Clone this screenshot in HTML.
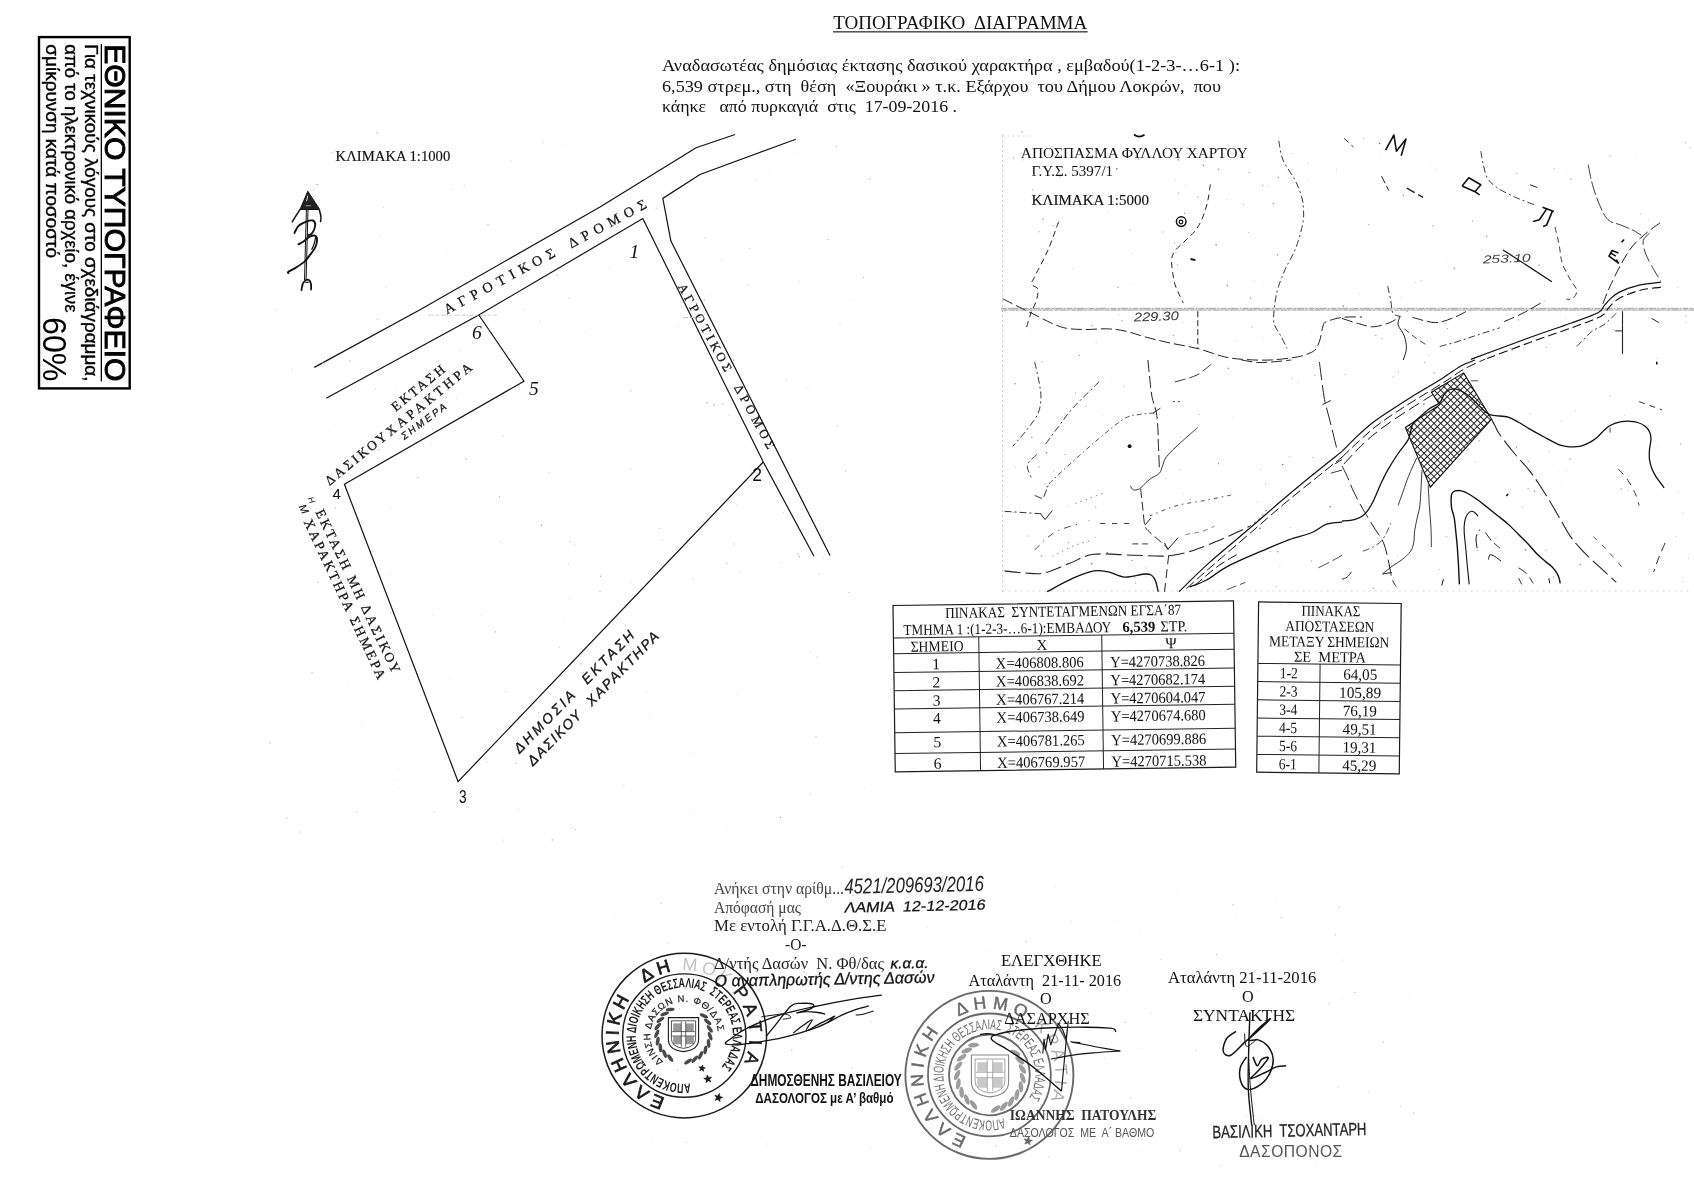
<!DOCTYPE html>
<html><head><meta charset="utf-8"><title>ΤΟΠΟΓΡΑΦΙΚΟ ΔΙΑΓΡΑΜΜΑ</title>
<style>
html,body{margin:0;padding:0;background:#fff;}
body{width:1694px;height:1177px;overflow:hidden;font-family:"Liberation Serif",serif;}
svg{display:block;filter:grayscale(100%);}
text{white-space:pre;}
</style></head><body>
<svg width="1694" height="1177" viewBox="0 0 1694 1177" xml:space="preserve">
<rect width="1694" height="1177" fill="#fff"/>
<!-- part1 -->
<rect x="39" y="37.1" width="90.7" height="351.3" fill="none" stroke="#000" stroke-width="2.4"/>
<text transform="translate(105.2,44.2) rotate(90)" font-family="Liberation Sans" font-size="29.6" fill="#000" textLength="337.3" lengthAdjust="spacingAndGlyphs" stroke="#000" stroke-width="0.9">ΕΘΝΙΚΟ ΤΥΠΟΓΡΑΦΕΙΟ</text>
<rect x="100.7" y="44" width="1.3" height="337.5" fill="#000"/>
<text transform="translate(84.9,44.3) rotate(90)" font-family="Liberation Sans" font-size="17.6" fill="#000" textLength="337.2" lengthAdjust="spacingAndGlyphs" stroke="#000" stroke-width="0.35">Για τεχνικούς λόγους στο σχεδιάγραμμα,</text>
<text transform="translate(65.4,44.3) rotate(90)" font-family="Liberation Sans" font-size="17.6" fill="#000" textLength="268.3" lengthAdjust="spacingAndGlyphs" stroke="#000" stroke-width="0.35">από το ηλεκτρονικό αρχείο, έγινε</text>
<text transform="translate(46.3,44.3) rotate(90)" font-family="Liberation Sans" font-size="17.6" fill="#000" textLength="213.7" lengthAdjust="spacingAndGlyphs" stroke="#000" stroke-width="0.35">σμίκρυνση κατά ποσοστό</text>
<text transform="translate(42.7,317) rotate(90)" font-family="Liberation Sans" font-size="33" fill="#000" textLength="64.5" lengthAdjust="spacingAndGlyphs">60%</text>
<text transform="translate(833.3,28.5)" font-family="Liberation Serif" font-size="18.2" fill="#111" textLength="254" lengthAdjust="spacingAndGlyphs">ΤΟΠΟΓΡΑΦΙΚΟ  ΔΙΑΓΡΑΜΜΑ</text>
<rect x="833" y="31.3" width="254.6" height="1.1" fill="#111"/>
<text transform="translate(662,71.2)" font-family="Liberation Serif" font-size="16.8" fill="#111" textLength="578" lengthAdjust="spacingAndGlyphs">Αναδασωτέας δημόσιας έκτασης δασικού χαρακτήρα , εμβαδού(1-2-3-…6-1 ):</text>
<text transform="translate(662,91.8)" font-family="Liberation Serif" font-size="16.8" fill="#111" textLength="559" lengthAdjust="spacingAndGlyphs">6,539 στρεμ., στη  θέση  «Ξουράκι » τ.κ. Εξάρχου  του Δήμου Λοκρών,  που</text>
<text transform="translate(662,112.3)" font-family="Liberation Serif" font-size="16.8" fill="#111" textLength="295" lengthAdjust="spacingAndGlyphs">κάηκε   από πυρκαγιά  στις  17-09-2016 .</text>
<!-- part2 -->
<text transform="translate(335.6,161)" font-family="Liberation Serif" font-size="14.6" fill="#111" textLength="114.7" lengthAdjust="spacingAndGlyphs" stroke="#111" stroke-width="0.15">ΚΛΙΜΑΚΑ 1:1000</text>
<path d="M314.3,367.4 L420.0,309.8 L600.0,207.0 L696.1,147.7 L735.1,134.5" fill="none" stroke="#111" stroke-width="1.2"/>
<path d="M326.2,398.2 L478.8,315.0 L642.8,218.6 L763.3,462.0 L814.0,556.3" fill="none" stroke="#111" stroke-width="1.2"/>
<path d="M795.8,139.2 L700.0,174.5 L662.8,198.4 L670.9,241.0 L680.5,260.0 L830.0,555.6" fill="none" stroke="#111" stroke-width="1.2"/>
<path d="M478.8,315.0 L524.0,381.2 L344.4,484.2 L458.1,781.6 L763.3,462.0" fill="none" stroke="#111" stroke-width="1.2"/>
<text transform="translate(446.9,314.6) rotate(-28.2)" font-family="Liberation Serif" font-size="14.2" fill="#111" textLength="124" lengthAdjust="spacing" stroke="#111" stroke-width="0.25">ΑΓΡΟΤΙΚΟΣ</text>
<text transform="translate(571.2,248.4) rotate(-28.2)" font-family="Liberation Serif" font-size="14.2" fill="#111" textLength="87" lengthAdjust="spacing" stroke="#111" stroke-width="0.25">ΔΡΟΜΟΣ</text>
<text transform="translate(677.7,286.5) rotate(61.3)" font-family="Liberation Serif" font-size="12.6" fill="#111" textLength="98.3" lengthAdjust="spacing" stroke="#111" stroke-width="0.25">ΑΓΡΟΤΙΚΟΣ</text>
<text transform="translate(733.8,387.6) rotate(61.3)" font-family="Liberation Serif" font-size="12.6" fill="#111" textLength="71" lengthAdjust="spacing" stroke="#111" stroke-width="0.25">ΔΡΟΜΟΣ</text>
<text transform="translate(395.7,411.9) rotate(-39)" font-family="Liberation Serif" font-size="13.4" fill="#111" textLength="64.6" lengthAdjust="spacing" stroke="#111" stroke-width="0.25">ΕΚΤΑΣΗ</text>
<text transform="translate(329.4,486) rotate(-39.3)" font-family="Liberation Serif" font-size="13.4" fill="#111" textLength="75.4" lengthAdjust="spacing" stroke="#111" stroke-width="0.25">ΔΑΣΙΚΟΥ</text>
<text transform="translate(390.3,436.7) rotate(-39.3)" font-family="Liberation Serif" font-size="13.4" fill="#111" textLength="106.8" lengthAdjust="spacing" stroke="#111" stroke-width="0.25">ΧΑΡΑΚΤΗΡΑ</text>
<text transform="translate(404.2,440.1) rotate(-36.5)" font-family="Liberation Sans" font-size="10" font-style="italic" fill="#111" textLength="53.4" lengthAdjust="spacing" stroke="#111" stroke-width="0.25">ΣΗΜΕΡΑ</text>
<text transform="translate(315.2,512) rotate(64.5)" font-family="Liberation Serif" font-size="13.6" fill="#111" textLength="179.7" lengthAdjust="spacing" stroke="#111" stroke-width="0.25">ΕΚΤΑΣΗ ΜΗ ΔΑΣΙΚΟΥ</text>
<text transform="translate(303.5,521.8) rotate(64.8)" font-family="Liberation Serif" font-size="13.6" fill="#111" textLength="175" lengthAdjust="spacing" stroke="#111" stroke-width="0.25">ΧΑΡΑΚΤΗΡΑ ΣΗΜΕΡΑ</text>
<text transform="translate(298.6,506.4) rotate(64.5)" font-family="Liberation Sans" font-size="11" font-style="italic" fill="#111">Μ</text>
<text transform="translate(307.4,498.6) rotate(64.5)" font-family="Liberation Sans" font-size="8.5" font-style="italic" fill="#111">Η</text>
<text transform="translate(519.5,754) rotate(-45.5)" font-family="Liberation Sans" font-size="14" font-style="italic" fill="#111" textLength="165" lengthAdjust="spacing" stroke="#111" stroke-width="0.3">ΔΗΜΟΣΙΑ  ΕΚΤΑΣΗ</text>
<text transform="translate(533,766.5) rotate(-45.5)" font-family="Liberation Sans" font-size="14" font-style="italic" fill="#111" textLength="181" lengthAdjust="spacing" stroke="#111" stroke-width="0.3">ΔΑΣΙΚΟΥ  ΧΑΡΑΚΤΗΡΑ</text>
<text transform="translate(629.5,258.3)" font-family="Liberation Serif" font-size="19.5" font-style="italic" fill="#111">1</text>
<text transform="translate(752.3,480.6)" font-family="Liberation Sans" font-size="17.5" fill="#111">2</text>
<text transform="translate(459,802.6)" font-family="Liberation Sans" font-size="17.5" fill="#111" textLength="7.6" lengthAdjust="spacingAndGlyphs">3</text>
<text transform="translate(332.5,499.2)" font-family="Liberation Sans" font-size="15" fill="#111">4</text>
<text transform="translate(529,394.5)" font-family="Liberation Serif" font-size="19.5" font-style="italic" fill="#111">5</text>
<text transform="translate(472,338.8)" font-family="Liberation Serif" font-size="19.5" font-style="italic" fill="#111">6</text>
<path d="M307.8,191.2 L300.0,209.5 L319.7,209.5 Z" fill="#222" stroke="#111" stroke-width="1"/>
<path d="M307.8,195.6 L306.6,201.2" fill="none" stroke="#ddd" stroke-width="1.0"/>
<path d="M305.7,205.7 L311.0,205.7" fill="none" stroke="#bbb" stroke-width="0.8"/>
<path d="M300.3,209.2 C299.5,210.4 297.0,214.2 295.6,216.4 C294.2,218.6 292.6,221.3 292.0,222.3" fill="none" stroke="#111" stroke-width="1.5"/>
<path d="M319.3,209.8 C319.6,210.9 320.7,214.3 320.9,216.4 C321.1,218.5 320.6,221.3 320.5,222.3" fill="none" stroke="#111" stroke-width="1.5"/>
<path d="M306.4,209.2 L304.5,280.0" fill="none" stroke="#111" stroke-width="1.0"/>
<path d="M308.0,209.2 L306.1,280.0" fill="none" stroke="#111" stroke-width="1.0"/>
<path d="M294.4,233.0 C295.1,231.8 296.5,227.8 298.5,225.9 C300.6,223.9 304.5,222.3 306.9,221.4 C309.2,220.5 311.4,220.2 312.8,220.5 C314.2,220.9 314.9,222.0 315.2,223.5 C315.4,225.0 314.9,227.7 314.2,229.5 C313.5,231.2 312.1,233.3 311.0,234.2 C310.0,235.2 308.5,235.0 308.0,235.2" fill="none" stroke="#111" stroke-width="1.9" stroke-linecap="round"/>
<path d="M298.5,244.3 C299.5,243.7 302.7,242.0 304.5,240.7 C306.3,239.5 307.4,237.6 309.2,236.8 C311.1,236.0 314.5,235.2 315.8,236.0 C317.1,236.7 317.1,239.5 317.0,241.3 C316.9,243.2 316.3,245.1 315.2,247.3 C314.1,249.5 312.2,252.0 310.4,254.4 C308.6,256.8 306.9,259.4 304.5,261.6 C302.1,263.7 298.8,265.8 296.2,267.5 C293.5,269.2 289.7,270.8 288.4,271.7 C287.1,272.6 288.4,272.8 288.4,273.0" fill="none" stroke="#111" stroke-width="1.9" stroke-linecap="round"/>
<path d="M315.8,236.6 C315.5,237.8 314.9,241.5 314.2,243.7 C313.5,245.9 312.1,248.7 311.6,249.7" fill="none" stroke="#111" stroke-width="1.2"/>
<path d="M301.5,290.1 C301.7,289.1 302.0,285.8 302.7,284.1 C303.4,282.5 304.6,280.9 305.7,280.2 C306.8,279.6 308.3,279.6 309.2,280.2 C310.1,280.9 310.7,282.6 311.0,284.1 C311.3,285.7 311.1,288.6 311.1,289.5" fill="none" stroke="#111" stroke-width="1.8" stroke-linecap="round"/>
<path d="M305.4,282.4 L308.6,282.4" fill="none" stroke="#111" stroke-width="1.2"/>
<path d="M428,315.2 H497" fill="none" stroke="#cfcfcf" stroke-width="1" stroke-dasharray="6 2 3 2"/>
<path d="M683,317.6 H701" fill="none" stroke="#bbb" stroke-width="1" stroke-dasharray="5 2"/>
<circle cx="541.4" cy="525.2" r="0.7" fill="#999"/><circle cx="574.7" cy="545.0" r="0.5" fill="#999"/><circle cx="647.9" cy="692.0" r="0.4" fill="#999"/><circle cx="452.0" cy="189.8" r="0.4" fill="#999"/><circle cx="848.9" cy="592.6" r="0.5" fill="#aaa"/><circle cx="769.0" cy="170.2" r="0.4" fill="#bbb"/><circle cx="797.7" cy="553.7" r="0.7" fill="#ccc"/><circle cx="534.3" cy="727.3" r="0.5" fill="#ccc"/><circle cx="569.9" cy="598.7" r="0.7" fill="#ccc"/><circle cx="514.1" cy="519.2" r="0.4" fill="#ccc"/><circle cx="459.2" cy="289.2" r="0.6" fill="#aaa"/><circle cx="312.1" cy="672.9" r="0.7" fill="#aaa"/><circle cx="778.0" cy="401.4" r="0.4" fill="#aaa"/><circle cx="398.1" cy="787.8" r="0.4" fill="#999"/><circle cx="495.3" cy="631.9" r="0.7" fill="#aaa"/><circle cx="609.7" cy="266.9" r="0.6" fill="#ccc"/><circle cx="322.3" cy="362.8" r="0.7" fill="#aaa"/><circle cx="350.8" cy="630.5" r="0.4" fill="#aaa"/><circle cx="549.0" cy="473.1" r="0.5" fill="#999"/><circle cx="575.3" cy="829.5" r="0.5" fill="#999"/><circle cx="656.2" cy="208.3" r="0.7" fill="#bbb"/><circle cx="270.3" cy="743.0" r="0.6" fill="#aaa"/><circle cx="396.4" cy="406.9" r="0.4" fill="#aaa"/><circle cx="863.6" cy="277.5" r="0.6" fill="#aaa"/><circle cx="733.6" cy="360.2" r="0.6" fill="#999"/><circle cx="314.0" cy="189.4" r="0.5" fill="#aaa"/><circle cx="630.8" cy="390.8" r="0.7" fill="#bbb"/><circle cx="845.5" cy="470.9" r="0.5" fill="#999"/><circle cx="379.7" cy="235.2" r="0.5" fill="#bbb"/><circle cx="705.2" cy="238.3" r="0.5" fill="#999"/><circle cx="799.3" cy="556.5" r="0.7" fill="#aaa"/><circle cx="332.3" cy="152.7" r="0.6" fill="#bbb"/><circle cx="713.9" cy="405.0" r="0.7" fill="#999"/><circle cx="446.1" cy="250.4" r="0.4" fill="#bbb"/><circle cx="407.0" cy="524.9" r="0.4" fill="#ccc"/><circle cx="397.4" cy="779.2" r="0.4" fill="#aaa"/><circle cx="431.5" cy="443.7" r="0.4" fill="#aaa"/><circle cx="375.8" cy="388.7" r="0.5" fill="#aaa"/><circle cx="487.3" cy="762.0" r="0.6" fill="#bbb"/><circle cx="623.9" cy="785.4" r="0.7" fill="#ccc"/><circle cx="690.6" cy="813.4" r="0.4" fill="#aaa"/><circle cx="559.3" cy="647.3" r="0.6" fill="#bbb"/><circle cx="869.6" cy="178.8" r="0.6" fill="#aaa"/><circle cx="810.1" cy="652.0" r="0.5" fill="#ccc"/><circle cx="481.1" cy="614.9" r="0.4" fill="#999"/><circle cx="836.5" cy="146.6" r="0.7" fill="#aaa"/><circle cx="645.0" cy="398.4" r="0.4" fill="#aaa"/><circle cx="318.1" cy="582.2" r="0.6" fill="#999"/><circle cx="706.9" cy="402.7" r="0.7" fill="#999"/><circle cx="547.6" cy="512.0" r="0.4" fill="#ccc"/><circle cx="630.8" cy="468.9" r="0.5" fill="#aaa"/><circle cx="568.4" cy="564.4" r="0.7" fill="#ccc"/><circle cx="807.9" cy="388.1" r="0.5" fill="#bbb"/><circle cx="581.0" cy="663.9" r="0.6" fill="#999"/><circle cx="569.0" cy="297.7" r="0.7" fill="#ccc"/><circle cx="389.1" cy="433.1" r="0.5" fill="#bbb"/><circle cx="500.7" cy="541.9" r="0.6" fill="#bbb"/><circle cx="351.7" cy="480.0" r="0.4" fill="#aaa"/><circle cx="840.0" cy="322.9" r="0.5" fill="#aaa"/><circle cx="540.4" cy="321.7" r="0.5" fill="#999"/><circle cx="499.5" cy="496.8" r="0.6" fill="#999"/><circle cx="462.2" cy="717.5" r="0.6" fill="#aaa"/><circle cx="677.0" cy="326.0" r="0.6" fill="#ccc"/><circle cx="659.6" cy="528.3" r="0.5" fill="#999"/><circle cx="542.9" cy="142.7" r="0.6" fill="#bbb"/><circle cx="737.6" cy="694.7" r="0.4" fill="#999"/><circle cx="335.4" cy="507.8" r="0.6" fill="#aaa"/><circle cx="680.7" cy="267.5" r="0.7" fill="#ccc"/><circle cx="377.2" cy="132.7" r="0.7" fill="#aaa"/><circle cx="377.5" cy="319.7" r="0.6" fill="#bbb"/><circle cx="506.1" cy="691.2" r="0.5" fill="#aaa"/><circle cx="516.3" cy="763.2" r="0.7" fill="#bbb"/><circle cx="540.3" cy="265.8" r="0.4" fill="#999"/><circle cx="600.0" cy="591.7" r="0.6" fill="#999"/><circle cx="465.9" cy="827.4" r="0.4" fill="#aaa"/><circle cx="398.0" cy="768.5" r="0.4" fill="#ccc"/><circle cx="592.2" cy="690.4" r="0.6" fill="#ccc"/><circle cx="816.0" cy="736.9" r="0.6" fill="#aaa"/><circle cx="292.3" cy="369.6" r="0.7" fill="#ccc"/><circle cx="562.5" cy="145.3" r="0.4" fill="#999"/><circle cx="749.9" cy="248.6" r="0.6" fill="#bbb"/><circle cx="552.3" cy="839.9" r="0.7" fill="#999"/><circle cx="617.4" cy="617.7" r="0.5" fill="#999"/><circle cx="586.0" cy="332.5" r="0.5" fill="#ccc"/><circle cx="457.0" cy="397.6" r="0.5" fill="#ccc"/><circle cx="780.5" cy="817.4" r="0.6" fill="#999"/><circle cx="390.6" cy="508.2" r="0.4" fill="#999"/><circle cx="286.7" cy="818.1" r="0.7" fill="#aaa"/><circle cx="564.6" cy="619.1" r="0.4" fill="#999"/><circle cx="518.3" cy="809.2" r="0.7" fill="#ccc"/><circle cx="417.8" cy="477.5" r="0.6" fill="#999"/><circle cx="810.5" cy="794.0" r="0.7" fill="#ccc"/><circle cx="335.2" cy="425.0" r="0.4" fill="#ccc"/><circle cx="347.7" cy="682.2" r="0.4" fill="#aaa"/><circle cx="386.5" cy="287.5" r="0.6" fill="#ccc"/><circle cx="704.2" cy="299.8" r="0.7" fill="#aaa"/><circle cx="569.8" cy="541.3" r="0.6" fill="#bbb"/><circle cx="690.8" cy="753.3" r="0.4" fill="#999"/><circle cx="649.8" cy="715.0" r="0.5" fill="#bbb"/><circle cx="788.3" cy="506.8" r="0.5" fill="#bbb"/><circle cx="780.8" cy="562.4" r="0.5" fill="#bbb"/><circle cx="818.9" cy="573.9" r="0.6" fill="#bbb"/><circle cx="459.5" cy="350.2" r="0.5" fill="#bbb"/><circle cx="737.0" cy="264.1" r="0.4" fill="#bbb"/><circle cx="803.4" cy="219.8" r="0.4" fill="#ccc"/><circle cx="502.7" cy="435.9" r="0.7" fill="#bbb"/><circle cx="390.4" cy="574.0" r="0.4" fill="#aaa"/><circle cx="390.6" cy="612.9" r="0.6" fill="#aaa"/><circle cx="692.8" cy="578.8" r="0.6" fill="#bbb"/><circle cx="751.7" cy="469.7" r="0.4" fill="#aaa"/><circle cx="727.2" cy="563.6" r="0.7" fill="#bbb"/><circle cx="383.7" cy="207.2" r="0.5" fill="#bbb"/><circle cx="864.2" cy="787.7" r="0.4" fill="#aaa"/><circle cx="350.7" cy="611.9" r="0.4" fill="#aaa"/><circle cx="466.1" cy="458.9" r="0.6" fill="#999"/><circle cx="396.1" cy="391.8" r="0.4" fill="#bbb"/><circle cx="378.8" cy="449.6" r="0.6" fill="#999"/><circle cx="823.1" cy="557.5" r="0.4" fill="#aaa"/><circle cx="464.2" cy="185.6" r="0.7" fill="#bbb"/><circle cx="572.6" cy="827.6" r="0.6" fill="#ccc"/><circle cx="816.8" cy="657.3" r="0.5" fill="#999"/><circle cx="349.9" cy="360.9" r="0.6" fill="#999"/><circle cx="729.1" cy="415.1" r="0.5" fill="#aaa"/><circle cx="748.4" cy="340.7" r="0.4" fill="#aaa"/><circle cx="802.8" cy="833.3" r="0.4" fill="#bbb"/><circle cx="433.8" cy="812.4" r="0.6" fill="#ccc"/><circle cx="399.6" cy="415.4" r="0.5" fill="#aaa"/><circle cx="503.8" cy="839.9" r="0.5" fill="#aaa"/><circle cx="727.0" cy="825.8" r="0.4" fill="#aaa"/><circle cx="639.2" cy="653.2" r="0.6" fill="#999"/><circle cx="510.9" cy="161.1" r="0.5" fill="#999"/><circle cx="276.5" cy="309.9" r="0.6" fill="#ccc"/><circle cx="600.0" cy="488.1" r="0.4" fill="#999"/><circle cx="755.7" cy="179.5" r="0.4" fill="#999"/><circle cx="828.1" cy="239.4" r="0.7" fill="#bbb"/><circle cx="783.4" cy="512.5" r="0.4" fill="#999"/><circle cx="837.2" cy="425.8" r="0.7" fill="#ccc"/><circle cx="489.3" cy="329.3" r="0.6" fill="#ccc"/><circle cx="668.2" cy="659.6" r="0.4" fill="#aaa"/><circle cx="733.5" cy="543.9" r="0.5" fill="#999"/><circle cx="722.8" cy="403.8" r="0.6" fill="#999"/><circle cx="300.1" cy="832.0" r="0.6" fill="#aaa"/><circle cx="748.6" cy="284.9" r="0.7" fill="#ccc"/><circle cx="853.9" cy="299.3" r="0.4" fill="#999"/><circle cx="356.6" cy="811.4" r="0.5" fill="#aaa"/><circle cx="300.2" cy="423.3" r="0.4" fill="#bbb"/><circle cx="786.7" cy="380.0" r="0.5" fill="#aaa"/><circle cx="488.0" cy="224.9" r="0.7" fill="#999"/><circle cx="630.6" cy="582.3" r="0.7" fill="#ccc"/><circle cx="736.8" cy="504.5" r="0.5" fill="#ccc"/><circle cx="710.6" cy="295.5" r="0.4" fill="#ccc"/><circle cx="740.6" cy="571.9" r="0.6" fill="#ccc"/><circle cx="432.9" cy="614.8" r="0.5" fill="#ccc"/><circle cx="722.0" cy="260.7" r="0.5" fill="#bbb"/><circle cx="797.3" cy="153.2" r="0.4" fill="#aaa"/><circle cx="432.6" cy="429.0" r="0.4" fill="#aaa"/><circle cx="403.5" cy="324.0" r="0.4" fill="#bbb"/><circle cx="600.4" cy="576.2" r="0.6" fill="#999"/><circle cx="557.1" cy="275.6" r="0.6" fill="#999"/><circle cx="716.9" cy="724.6" r="0.4" fill="#aaa"/><circle cx="538.4" cy="712.8" r="0.5" fill="#999"/><circle cx="524.6" cy="309.5" r="0.5" fill="#ccc"/><circle cx="362.1" cy="723.0" r="0.6" fill="#ccc"/><circle cx="599.2" cy="658.5" r="0.5" fill="#999"/><circle cx="662.3" cy="540.1" r="0.7" fill="#ccc"/><circle cx="317.1" cy="184.4" r="0.7" fill="#999"/><circle cx="449.3" cy="679.5" r="0.4" fill="#ccc"/><circle cx="398.0" cy="598.4" r="0.4" fill="#ccc"/><circle cx="566.9" cy="671.4" r="0.6" fill="#ccc"/><circle cx="799.0" cy="281.4" r="0.6" fill="#ccc"/><circle cx="1343.1" cy="960.0" r="0.5" fill="#ccc"/><circle cx="1087.7" cy="1139.7" r="0.6" fill="#bbb"/><circle cx="959.2" cy="1108.9" r="0.5" fill="#bbb"/><circle cx="860.4" cy="983.9" r="0.6" fill="#ccc"/><circle cx="803.6" cy="972.1" r="0.5" fill="#aaa"/><circle cx="897.9" cy="982.6" r="0.5" fill="#aaa"/><circle cx="1205.8" cy="974.2" r="0.5" fill="#ccc"/><circle cx="726.9" cy="1043.3" r="0.4" fill="#aaa"/><circle cx="673.6" cy="1000.9" r="0.5" fill="#aaa"/><circle cx="781.4" cy="877.9" r="0.4" fill="#ccc"/><circle cx="842.6" cy="866.9" r="0.5" fill="#aaa"/><circle cx="1077.2" cy="954.7" r="0.6" fill="#aaa"/><circle cx="874.3" cy="944.8" r="0.4" fill="#bbb"/><circle cx="669.5" cy="1056.6" r="0.4" fill="#aaa"/><circle cx="1211.5" cy="1061.2" r="0.4" fill="#ccc"/><circle cx="780.8" cy="1097.3" r="0.6" fill="#bbb"/><circle cx="1227.1" cy="982.3" r="0.5" fill="#bbb"/><circle cx="1151.4" cy="1013.0" r="0.6" fill="#ccc"/><circle cx="659.4" cy="1051.6" r="0.4" fill="#bbb"/><circle cx="1220.8" cy="1165.6" r="0.5" fill="#aaa"/><circle cx="1260.8" cy="1118.5" r="0.5" fill="#ccc"/><circle cx="1125.0" cy="1022.4" r="0.6" fill="#aaa"/><circle cx="1257.8" cy="990.7" r="0.5" fill="#aaa"/><circle cx="801.5" cy="910.3" r="0.6" fill="#bbb"/><circle cx="1160.9" cy="959.5" r="0.5" fill="#bbb"/><circle cx="1033.8" cy="945.0" r="0.4" fill="#bbb"/><circle cx="852.9" cy="895.6" r="0.6" fill="#aaa"/><circle cx="1236.3" cy="915.6" r="0.4" fill="#bbb"/><circle cx="614.1" cy="1009.1" r="0.4" fill="#bbb"/><circle cx="689.1" cy="917.2" r="0.4" fill="#ccc"/><circle cx="793.0" cy="1082.3" r="0.6" fill="#ccc"/><circle cx="783.6" cy="917.3" r="0.5" fill="#bbb"/><circle cx="741.5" cy="1094.8" r="0.5" fill="#ccc"/><circle cx="1049.6" cy="1113.3" r="0.5" fill="#bbb"/><circle cx="997.5" cy="984.8" r="0.5" fill="#ccc"/><circle cx="1048.8" cy="1156.7" r="0.5" fill="#aaa"/><circle cx="927.5" cy="927.4" r="0.4" fill="#bbb"/><circle cx="1400.3" cy="1106.4" r="0.5" fill="#aaa"/><circle cx="1139.2" cy="933.7" r="0.4" fill="#bbb"/><circle cx="1342.3" cy="999.5" r="0.4" fill="#ccc"/><circle cx="945.6" cy="1131.2" r="0.5" fill="#aaa"/><circle cx="1233.0" cy="904.9" r="0.6" fill="#aaa"/><circle cx="1122.3" cy="1167.9" r="0.5" fill="#ccc"/><circle cx="1038.4" cy="906.7" r="0.4" fill="#aaa"/><circle cx="767.5" cy="1144.0" r="0.4" fill="#aaa"/><circle cx="667.6" cy="943.7" r="0.6" fill="#ccc"/><circle cx="679.7" cy="1008.8" r="0.5" fill="#aaa"/><circle cx="1383.5" cy="1041.9" r="0.6" fill="#bbb"/><circle cx="615.6" cy="918.2" r="0.4" fill="#ccc"/><circle cx="674.6" cy="1116.2" r="0.4" fill="#aaa"/><circle cx="1045.6" cy="1023.0" r="0.4" fill="#bbb"/><circle cx="859.2" cy="985.7" r="0.6" fill="#bbb"/><circle cx="1417.8" cy="1066.8" r="0.4" fill="#bbb"/><circle cx="661.0" cy="903.6" r="0.6" fill="#bbb"/><circle cx="1154.2" cy="1091.5" r="0.4" fill="#ccc"/><circle cx="965.2" cy="1127.7" r="0.6" fill="#ccc"/><circle cx="989.7" cy="951.0" r="0.4" fill="#bbb"/><circle cx="1232.9" cy="1125.4" r="0.6" fill="#aaa"/><circle cx="1339.3" cy="907.2" r="0.6" fill="#bbb"/><circle cx="1368.7" cy="1092.4" r="0.5" fill="#bbb"/><circle cx="1055.6" cy="886.9" r="0.4" fill="#aaa"/><circle cx="908.8" cy="894.0" r="0.5" fill="#bbb"/><circle cx="1061.5" cy="1084.4" r="0.5" fill="#bbb"/><circle cx="1278.0" cy="888.6" r="0.4" fill="#ccc"/><circle cx="677.4" cy="1070.1" r="0.6" fill="#aaa"/><circle cx="747.5" cy="984.7" r="0.5" fill="#ccc"/><circle cx="1177.2" cy="891.1" r="0.4" fill="#aaa"/><circle cx="1409.7" cy="994.5" r="0.4" fill="#bbb"/><circle cx="1354.9" cy="992.4" r="0.6" fill="#aaa"/><circle cx="1130.7" cy="1097.7" r="0.6" fill="#bbb"/><circle cx="995.9" cy="1145.6" r="0.6" fill="#aaa"/><circle cx="1196.1" cy="1050.1" r="0.5" fill="#aaa"/><circle cx="1141.4" cy="1048.7" r="0.4" fill="#bbb"/><circle cx="871.4" cy="966.1" r="0.6" fill="#bbb"/><circle cx="687.1" cy="977.1" r="0.6" fill="#bbb"/><circle cx="1246.6" cy="1115.8" r="0.6" fill="#ccc"/><circle cx="729.8" cy="1097.6" r="0.5" fill="#ccc"/><circle cx="791.8" cy="1049.7" r="0.6" fill="#aaa"/><circle cx="1070.8" cy="921.4" r="0.6" fill="#ccc"/><circle cx="1179.6" cy="1150.1" r="0.6" fill="#aaa"/><circle cx="1114.2" cy="921.3" r="0.4" fill="#aaa"/><circle cx="800.6" cy="1038.7" r="0.6" fill="#bbb"/><circle cx="869.9" cy="1148.0" r="0.5" fill="#bbb"/><circle cx="979.7" cy="898.4" r="0.6" fill="#aaa"/><circle cx="795.7" cy="1036.5" r="0.6" fill="#ccc"/><circle cx="652.1" cy="1143.7" r="0.4" fill="#ccc"/><circle cx="1413.5" cy="1113.4" r="0.6" fill="#aaa"/><circle cx="700.6" cy="1115.6" r="0.5" fill="#ccc"/><circle cx="1335.5" cy="934.7" r="0.6" fill="#bbb"/><circle cx="1281.2" cy="917.5" r="0.6" fill="#aaa"/><circle cx="972.6" cy="985.1" r="0.6" fill="#aaa"/><circle cx="852.3" cy="1068.1" r="0.6" fill="#bbb"/><circle cx="1104.5" cy="1058.5" r="0.4" fill="#aaa"/><circle cx="763.6" cy="1005.1" r="0.4" fill="#ccc"/><circle cx="916.8" cy="1036.6" r="0.4" fill="#bbb"/><circle cx="1026.2" cy="941.7" r="0.6" fill="#bbb"/><circle cx="643.8" cy="1103.0" r="0.6" fill="#ccc"/><circle cx="1245.8" cy="985.0" r="0.5" fill="#ccc"/><circle cx="684.1" cy="967.1" r="0.6" fill="#ccc"/><circle cx="1063.1" cy="986.2" r="0.5" fill="#bbb"/><circle cx="1329.1" cy="1003.7" r="0.6" fill="#bbb"/><circle cx="1276.6" cy="896.4" r="0.4" fill="#ccc"/><circle cx="870.9" cy="1021.4" r="0.5" fill="#aaa"/><circle cx="863.0" cy="877.0" r="0.6" fill="#ccc"/><circle cx="1338.1" cy="1086.9" r="0.6" fill="#bbb"/><circle cx="1216.5" cy="954.5" r="0.6" fill="#aaa"/><circle cx="800.4" cy="1121.8" r="0.4" fill="#ccc"/><circle cx="1315.9" cy="1161.5" r="0.5" fill="#ccc"/><circle cx="686.4" cy="1142.1" r="0.6" fill="#bbb"/><circle cx="1138.6" cy="1151.5" r="0.4" fill="#ccc"/>
<!-- part3 -->
<text transform="translate(1020.8,158.4)" font-family="Liberation Serif" font-size="14.8" fill="#111" textLength="227" lengthAdjust="spacingAndGlyphs">ΑΠΟΣΠΑΣΜΑ ΦΥΛΛΟΥ ΧΑΡΤΟΥ</text>
<text transform="translate(1031.6,176.1)" font-family="Liberation Serif" font-size="14.2" fill="#111" textLength="81.5" lengthAdjust="spacingAndGlyphs">Γ.Υ.Σ. 5397/1</text>
<text transform="translate(1031.6,205.2)" font-family="Liberation Serif" font-size="14.2" fill="#111" textLength="117.5" lengthAdjust="spacingAndGlyphs" stroke="#111" stroke-width="0.15">ΚΛΙΜΑΚΑ 1:5000</text>
<rect x="1001" y="307.6" width="693" height="3.4" fill="#dcdcdc"/>
<path d="M1001,308.6 H1694" stroke="#a8a8a8" stroke-width="1" stroke-dasharray="5 2 2 1 7 2 1 2"/>
<path d="M1004,310 H1694" stroke="#b4b4b4" stroke-width="1" stroke-dasharray="3 2 6 1 2 3"/>
<path d="M1002.5,135.0 L1002.5,592.0" fill="none" stroke="#bbb" stroke-width="0.8" stroke-dasharray="2 3"/>
<path d="M1002.5,591.0 L1690.0,591.0" fill="none" stroke="#ccc" stroke-width="0.8" stroke-dasharray="2 4"/>
<path d="M1002.5,136.0 L1030.0,136.0" fill="none" stroke="#ccc" stroke-width="0.8" stroke-dasharray="2 3"/>
<path d="M1058.6,221.8 C1056.8,226.5 1051.9,241.0 1048.0,250.0 C1044.1,259.0 1037.7,270.3 1035.0,276.0 C1032.3,281.7 1031.1,282.0 1031.6,284.2 C1032.1,286.4 1037.0,286.4 1037.8,289.0 C1038.6,291.6 1037.6,296.0 1036.5,300.0 C1035.4,304.0 1032.7,308.4 1031.0,313.0 C1029.3,317.6 1027.2,325.3 1026.4,327.8" fill="none" stroke="#222" stroke-width="1" stroke-dasharray="6 4"/>
<path d="M1002.5,298.7 C1004.9,299.9 1012.1,303.6 1017.0,306.0 C1021.9,308.4 1024.3,309.7 1031.6,313.2 C1038.9,316.7 1052.0,324.1 1060.6,326.8 C1069.2,329.5 1075.4,329.2 1083.0,329.5 C1090.6,329.8 1099.4,328.6 1106.4,328.8 C1113.4,329.1 1118.4,329.6 1125.0,331.0 C1131.6,332.4 1138.3,335.1 1145.8,337.1 C1153.3,339.1 1161.3,341.1 1170.0,343.0 C1178.7,344.9 1188.7,346.3 1197.8,348.6 C1206.9,350.9 1216.9,355.1 1224.8,356.9 C1232.7,358.7 1237.5,359.0 1245.0,359.5 C1252.5,360.0 1261.2,360.4 1270.0,360.0 C1278.8,359.6 1290.8,358.1 1297.5,356.9 C1304.2,355.7 1306.9,354.4 1310.0,353.0 C1313.1,351.6 1314.5,351.1 1316.2,348.6 C1317.9,346.1 1319.3,342.0 1320.4,338.2 C1321.5,334.4 1322.0,328.8 1323.0,326.0 C1324.0,323.2 1323.4,323.0 1326.6,321.6 C1329.8,320.2 1336.1,318.2 1342.0,317.4 C1347.9,316.6 1358.7,317.1 1362.0,317.0" fill="none" stroke="#222" stroke-width="1" stroke-dasharray="11 4"/>
<path d="M1210.3,184.4 C1210.0,186.5 1209.2,193.2 1208.5,197.0 C1207.8,200.8 1207.2,203.6 1206.1,207.3 C1205.0,211.0 1203.7,215.2 1202.0,219.0 C1200.3,222.8 1198.5,226.4 1195.7,230.1 C1192.9,233.8 1188.5,237.5 1185.0,241.0 C1181.5,244.5 1177.1,248.1 1174.9,250.9 C1172.7,253.7 1172.3,255.6 1171.8,258.0 C1171.3,260.4 1171.6,262.7 1171.8,265.5 C1172.0,268.3 1172.5,271.9 1173.0,275.0 C1173.5,278.1 1174.0,281.2 1174.9,284.2 C1175.8,287.2 1177.1,289.9 1178.5,293.0 C1179.9,296.1 1182.4,301.2 1183.2,302.9" fill="none" stroke="#222" stroke-width="1" stroke-dasharray="6 4"/>
<path d="M1197.8,311.2 L1197.8,348.6" fill="none" stroke="#222" stroke-width="1" stroke-dasharray="6 3"/>
<path d="M1278.8,140.8 C1279.5,144.0 1280.3,153.5 1283.0,160.0 C1285.7,166.5 1291.9,173.8 1295.0,180.0 C1298.1,186.2 1300.3,191.9 1301.7,196.9 C1303.1,201.9 1303.3,205.5 1303.5,210.0 C1303.7,214.5 1304.0,217.4 1302.7,223.9 C1301.4,230.4 1298.4,241.2 1295.5,248.8 C1292.6,256.4 1288.2,262.3 1285.1,269.6 C1282.0,276.9 1278.7,284.5 1276.8,292.5 C1274.9,300.5 1273.8,311.6 1273.6,317.4 C1273.4,323.1 1274.3,323.9 1275.5,327.0 C1276.7,330.1 1279.0,332.5 1280.9,336.1 C1282.8,339.7 1286.1,346.5 1287.1,348.6" fill="none" stroke="#222" stroke-width="0.9" stroke-dasharray="7 3 2 3"/>
<circle cx="1181.2" cy="221.6" r="4.8" fill="none" stroke="#111" stroke-width="1.5"/><circle cx="1181" cy="222" r="1.8" fill="none" stroke="#111" stroke-width="1.2"/>
<path d="M1190.5,259 l5,1.2" fill="none" stroke="#111" stroke-width="1.8"/>
<path d="M1134,134.5 q5,4 10.5,0.3" fill="none" stroke="#111" stroke-width="1.8"/>
<text transform="translate(1134,321.5) rotate(-2)" font-family="Liberation Sans" font-size="12.5" font-style="italic" fill="#333" textLength="45" lengthAdjust="spacingAndGlyphs">229.30</text>
<!-- part4 -->
<path d="M1385.6,150.1 L1393.9,135.0 L1396.4,151.2 L1406.0,139.1 L1401.2,155.7" fill="none" stroke="#111" stroke-width="1.6" stroke-linejoin="round"/>
<path d="M1462.1,186.1 L1468.8,177.8 L1480.8,184.8 L1475.0,191.7 L1462.1,186.1 M1475.0,191.7 L1479.6,194.8" fill="none" stroke="#111" stroke-width="1.6" stroke-linejoin="round"/>
<path d="M1542.5,207.3 L1553.9,211.4 M1546.7,208.9 L1539.4,219.7 L1533.2,221.4 M1552.3,211.4 L1546.7,224.9 L1543.1,226.4" fill="none" stroke="#111" stroke-width="1.6" stroke-linejoin="round"/>
<path d="M1618.4,253.0 L1612.1,250.5 L1609.0,256.1 L1618.4,263.0 L1616.3,259.6 M1611.1,253.4 L1615.9,256.1 M1621.5,242.2 L1624.2,239.5" fill="none" stroke="#111" stroke-width="1.6" stroke-linejoin="round"/>
<text transform="translate(1482.8831168831168,263.37662337662334) rotate(-2)" font-family="Liberation Sans" font-size="11.5" font-style="italic" fill="#444" textLength="48" lengthAdjust="spacingAndGlyphs">253.10</text>
<path d="M1503.0,249.9 L1551.9,281.7" fill="none" stroke="#111" stroke-width="1.2"/>
<path d="M1661.0,282.1 C1657.3,282.6 1646.1,283.5 1639.1,285.2 C1632.2,286.9 1624.3,289.7 1619.4,292.1 C1614.6,294.4 1612.6,296.9 1610.1,299.1 C1607.5,301.4 1606.2,303.3 1604.2,305.6 C1602.2,307.8 1603.6,309.9 1598.0,312.8 C1592.4,315.8 1582.1,319.1 1570.6,323.2 C1559.1,327.4 1545.6,331.7 1529.0,337.8 C1512.4,343.8 1480.5,355.8 1470.8,359.4" fill="none" stroke="#111" stroke-width="1.2"/>
<path d="M1661.0,287.3 C1657.7,287.7 1647.6,288.4 1641.2,290.0 C1634.8,291.5 1627.2,294.5 1622.5,296.6 C1617.8,298.8 1615.6,300.8 1613.2,302.9 C1610.7,304.9 1610.1,306.4 1608.0,308.7 C1605.9,310.9 1606.6,313.2 1600.7,316.4 C1594.8,319.5 1584.3,323.1 1572.6,327.4 C1561.0,331.6 1546.0,336.5 1531.1,341.9 C1516.2,347.4 1491.3,357.0 1483.3,360.0" fill="none" stroke="#111" stroke-width="1.1" stroke-dasharray="9 4"/>
<path d="M1344.1,138.3 L1353.4,147.0" fill="none" stroke="#222" stroke-width="1" stroke-dasharray="6 4"/>
<path d="M1381.5,176.1 L1388.8,190.6" fill="none" stroke="#222" stroke-width="1" stroke-dasharray="8 3"/>
<path d="M1406.8,188.2 L1423.0,197.3" fill="none" stroke="#222" stroke-width="1.4" stroke-dasharray="9 4"/>
<path d="M1480.8,151.2 C1481.2,153.4 1482.2,160.2 1483.3,164.7 C1484.4,169.2 1485.2,174.4 1487.5,178.2 C1489.7,182.0 1492.3,184.4 1496.8,187.5 C1501.3,190.6 1508.1,193.9 1514.5,196.9 C1520.9,199.8 1531.8,203.8 1535.2,205.2" fill="none" stroke="#222" stroke-width="0.9" stroke-dasharray="7 3 2 3"/>
<path d="M1530.1,184.8 L1537.3,187.5" fill="none" stroke="#222" stroke-width="1"/>
<path d="M1588.2,164.7 C1588.9,168.0 1590.5,177.7 1592.4,184.4 C1594.3,191.2 1597.1,199.3 1599.7,205.2 C1602.3,211.1 1604.5,216.5 1608.0,219.7 C1611.4,223.0 1616.3,223.2 1620.4,224.9 C1624.6,226.7 1629.4,228.4 1632.9,230.1 C1636.4,231.9 1639.8,234.5 1641.2,235.3" fill="none" stroke="#222" stroke-width="0.9" stroke-dasharray="14 3"/>
<path d="M1659.9,222.9 C1657.8,224.4 1652.0,228.4 1647.5,232.2 C1643.0,236.0 1637.2,240.5 1632.9,245.7 C1628.6,250.9 1625.3,256.6 1621.5,263.4 C1617.7,270.1 1613.2,279.5 1610.1,286.2 C1606.9,293.0 1604.0,301.0 1602.8,303.9" fill="none" stroke="#222" stroke-width="1" stroke-dasharray="11 4"/>
<path d="M1649.5,233.2 C1648.5,234.5 1644.0,237.2 1643.3,240.5 C1642.6,243.8 1643.6,248.1 1645.4,253.0 C1647.1,257.8 1651.1,264.9 1653.7,269.6 C1656.3,274.3 1659.7,279.1 1661.0,281.0" fill="none" stroke="#222" stroke-width="0.9" stroke-dasharray="14 4"/>
<path d="M1555.0,227.0 C1555.7,230.0 1557.9,238.6 1559.1,244.7 C1560.4,250.7 1560.4,257.5 1562.3,263.4 C1564.2,269.3 1568.1,275.5 1570.6,280.0 C1573.0,284.5 1576.5,287.3 1576.8,290.4 C1577.2,293.5 1574.4,297.2 1572.6,298.7 C1570.9,300.2 1567.5,299.0 1566.4,299.1" fill="none" stroke="#222" stroke-width="0.9" stroke-dasharray="6 4"/>
<path d="M1342.0,318.4 C1344.8,319.3 1353.4,322.3 1358.6,323.6 C1363.8,325.0 1368.0,326.9 1373.2,326.8 C1378.4,326.6 1385.3,324.3 1389.8,322.6 C1394.3,320.9 1398.5,317.4 1400.2,316.4" fill="none" stroke="#222" stroke-width="1" stroke-dasharray="11 4"/>
<path d="M1387.7,286.2 C1388.2,288.7 1390.0,296.3 1390.8,300.8 C1391.7,305.3 1391.4,310.6 1392.9,313.2 C1394.5,315.8 1399.0,315.8 1400.2,316.4" fill="none" stroke="#222" stroke-width="0.9" stroke-dasharray="7 3 2 3"/>
<path d="M1400.2,316.4 C1399.8,317.7 1397.4,321.4 1398.1,324.7 C1398.8,328.0 1403.0,332.1 1404.3,336.1 C1405.7,340.1 1406.6,344.6 1406.4,348.6 C1406.2,352.6 1403.8,358.1 1403.3,360.0" fill="none" stroke="#222" stroke-width="1"/>
<path d="M1404.3,328.8 C1406.1,330.2 1410.9,334.4 1414.7,337.1 C1418.5,339.9 1425.1,344.1 1427.2,345.5" fill="none" stroke="#222" stroke-width="0.9" stroke-dasharray="6 4"/>
<path d="M1412.6,317.4 C1416.5,318.3 1428.6,322.6 1435.5,322.6 C1442.4,322.6 1449.0,319.3 1454.2,317.4 C1459.4,315.5 1464.6,312.2 1466.7,311.2" fill="none" stroke="#222" stroke-width="1" stroke-dasharray="11 4"/>
<path d="M1504.1,321.6 C1507.2,320.2 1516.0,316.7 1522.8,313.2 C1529.5,309.8 1541.0,302.9 1544.6,300.8" fill="none" stroke="#222" stroke-width="1" stroke-dasharray="11 4"/>
<path d="M1439.7,346.5 C1442.8,345.6 1452.1,343.2 1458.4,341.3 C1464.6,339.4 1470.1,337.3 1477.1,335.1 C1484.0,332.8 1496.1,329.0 1499.9,327.8" fill="none" stroke="#222" stroke-width="0.9" stroke-dasharray="7 3 2 3"/>
<path d="M1576.8,346.5 C1579.2,344.1 1586.8,335.6 1591.4,331.9 C1595.9,328.3 1599.7,327.8 1603.8,324.7 C1608.0,321.6 1614.2,315.2 1616.3,313.2" fill="none" stroke="#222" stroke-width="0.9" stroke-dasharray="7 3 2 3"/>
<path d="M1622.5,311.2 L1622.5,353.8" fill="none" stroke="#222" stroke-width="1.1"/>
<path d="M1615.2,330.9 L1622.5,330.9" fill="none" stroke="#222" stroke-width="1"/>
<path d="M1651.6,318.4 L1658.9,322.6" fill="none" stroke="#222" stroke-width="1"/>
<path d="M1179.1,591.7 C1183.9,587.0 1196.4,574.2 1208.2,563.6 C1220.0,553.1 1237.6,538.7 1249.7,528.3 C1261.9,517.9 1270.5,510.1 1280.9,501.3 C1291.3,492.5 1301.9,483.6 1312.1,475.3 C1322.3,467.0 1337.0,455.4 1342.0,451.4" fill="none" stroke="#111" stroke-width="1.2"/>
<path d="M1186.4,588.6 C1190.7,584.8 1201.4,575.2 1212.3,565.7 C1223.3,556.2 1240.4,541.6 1252.2,531.4 C1264.1,521.2 1273.1,513.1 1283.4,504.4 C1293.7,495.8 1304.4,487.3 1314.2,479.5 C1323.9,471.6 1337.4,461.0 1342.0,457.2" fill="none" stroke="#111" stroke-width="1.0" stroke-dasharray="10 4"/>
<path d="M1194.7,585.5 C1198.7,582.2 1211.1,571.1 1218.6,565.7 C1226.0,560.3 1235.9,555.3 1239.4,553.2" fill="none" stroke="#111" stroke-width="1.0" stroke-dasharray="10 4"/>
<path d="M1342.0,522.1 C1339.4,522.4 1331.6,522.4 1326.6,524.2 C1321.6,525.9 1318.3,529.9 1312.1,532.5 C1305.8,535.1 1296.8,537.0 1289.2,539.7 C1281.6,542.5 1276.4,544.8 1266.4,549.1 C1256.3,553.4 1239.0,560.5 1229.0,565.7 C1218.9,570.9 1212.7,576.7 1206.1,580.3 C1199.5,583.8 1192.3,585.8 1189.5,586.9" fill="none" stroke="#111" stroke-width="1.3"/>
<path d="M1047.1,591.7 C1051.5,589.4 1065.3,581.6 1073.1,578.2 C1080.9,574.7 1088.0,571.9 1093.9,570.9 C1099.8,569.9 1103.2,570.9 1108.4,571.9 C1113.6,573.0 1118.8,576.8 1125.1,577.1 C1131.3,577.5 1141.0,573.9 1145.8,574.0 C1150.7,574.2 1152.1,575.2 1154.2,578.2 C1156.2,581.1 1157.6,589.4 1158.3,591.7" fill="none" stroke="#111" stroke-width="1.3"/>
<path d="M1004.5,570.9 C1008.0,571.3 1018.7,572.6 1025.3,573.0 C1031.9,573.3 1036.8,574.5 1044.0,573.0 C1051.3,571.4 1060.6,566.8 1069.0,563.6 C1077.3,560.5 1082.8,555.7 1093.9,554.3 C1105.0,552.9 1122.3,555.2 1135.5,555.3 C1148.6,555.5 1160.7,557.1 1172.9,555.3 C1185.0,553.6 1195.4,549.8 1208.2,544.9 C1221.0,540.1 1242.8,529.4 1249.7,526.2" fill="none" stroke="#222" stroke-width="1.1" stroke-dasharray="16 5"/>
<path d="M1249.7,526.2 C1251.5,524.8 1257.0,521.0 1260.1,517.9 C1263.2,514.8 1267.1,509.3 1268.4,507.5" fill="none" stroke="#222" stroke-width="0.8" stroke-dasharray="1.5 4"/>
<path d="M1147.9,360.0 C1148.3,363.5 1149.3,374.5 1150.0,380.8 C1150.7,387.0 1151.0,392.2 1152.1,397.4 C1153.1,402.6 1155.3,406.8 1156.2,411.9 C1157.2,417.1 1157.5,423.4 1157.9,428.6 C1158.2,433.8 1158.1,436.5 1158.3,443.1 C1158.6,449.7 1159.2,463.9 1159.4,468.1" fill="none" stroke="#222" stroke-width="1" stroke-dasharray="12 4"/>
<path d="M1153.1,413.0 L1160.4,408.2" fill="none" stroke="#222" stroke-width="1"/>
<path d="M1197.8,427.5 C1195.0,430.0 1186.4,437.2 1181.2,442.1 C1176.0,446.9 1169.7,452.6 1166.6,456.6 C1163.5,460.6 1163.7,463.2 1162.5,466.0 C1161.3,468.7 1161.3,471.2 1159.4,473.2 C1157.4,475.3 1153.6,476.5 1151.0,478.4 C1148.4,480.3 1145.7,482.9 1143.8,484.7 C1141.9,486.4 1141.3,488.0 1139.6,488.8 C1137.9,489.7 1134.9,490.4 1133.4,489.9 C1131.8,489.4 1130.8,486.4 1130.3,485.7" fill="none" stroke="#222" stroke-width="0.9"/>
<path d="M1140.6,488.8 C1141.0,491.9 1142.0,501.5 1142.7,507.5 C1143.4,513.6 1143.9,521.4 1144.8,525.2 C1145.7,529.0 1145.7,528.0 1147.9,530.4 C1150.2,532.8 1154.8,536.6 1158.3,539.7 C1161.8,542.9 1167.0,547.5 1168.7,549.1" fill="none" stroke="#222" stroke-width="1" stroke-dasharray="9 4"/>
<path d="M1168.7,555.3 L1164.5,591.7" fill="none" stroke="#222" stroke-width="1" stroke-dasharray="9 5"/>
<path d="M1144.8,525.2 L1151.0,517.9" fill="none" stroke="#222" stroke-width="1"/>
<path d="M1167.7,549.5 L1178.1,537.7" fill="none" stroke="#222" stroke-width="1"/>
<path d="M1167.7,549.5 L1164.5,542.9" fill="none" stroke="#222" stroke-width="1"/>
<path d="M1040.9,514.2 L1045.1,519.6 L1052.3,510.6" fill="none" stroke="#222" stroke-width="1"/>
<path d="M1034.7,495.5 L1043.0,498.8 L1048.2,485.7" fill="none" stroke="#222" stroke-width="0.9" stroke-dasharray="8 3"/>
<circle cx="1129.6" cy="446.2" r="1.9" fill="#111"/>
<path d="M1099.1,381.8 C1094.8,386.1 1079.9,400.3 1073.1,407.8 C1066.4,415.2 1063.4,420.1 1058.6,426.5 C1053.7,432.9 1046.5,442.9 1044.0,446.2" fill="none" stroke="#222" stroke-width="0.9" stroke-dasharray="7 3 2 3"/>
<path d="M1034.7,362.1 C1035.4,365.2 1037.8,374.9 1038.8,380.8 C1039.9,386.7 1041.1,391.9 1040.9,397.4 C1040.7,402.9 1040.4,408.3 1037.8,414.0 C1035.2,419.7 1029.5,426.3 1025.3,431.7 C1021.2,437.1 1014.9,443.8 1012.9,446.2" fill="none" stroke="#222" stroke-width="0.9" stroke-dasharray="7 3 2 3"/>
<path d="M1154.2,413.0 C1151.7,413.2 1144.5,413.6 1139.6,414.4 C1134.8,415.3 1131.3,414.6 1125.1,418.2 C1118.8,421.7 1109.8,429.6 1102.2,435.8 C1094.6,442.1 1088.0,447.8 1079.4,455.6 C1070.7,463.4 1055.6,476.9 1050.3,482.6 C1044.9,488.3 1047.7,488.7 1047.1,489.9" fill="none" stroke="#222" stroke-width="0.8" stroke-dasharray="5 3 1.5 3"/>
<path d="M1036.8,454.5 C1035.2,456.3 1028.3,461.0 1027.4,464.9 C1026.5,468.9 1030.9,476.2 1031.6,478.4" fill="none" stroke="#222" stroke-width="0.9" stroke-dasharray="7 3 2 3"/>
<path d="M1004.5,511.3 L1041.9,513.8" fill="none" stroke="#222" stroke-width="0.9" stroke-dasharray="7 3 2 3"/>
<path d="M1231.0,495.1 C1226.9,495.9 1215.1,498.5 1206.1,500.3 C1197.1,502.0 1186.4,502.9 1177.0,505.5 C1167.7,508.1 1154.5,514.1 1150.0,515.8" fill="none" stroke="#222" stroke-width="0.8" stroke-dasharray="4 4 1.5 4"/>
<path d="M1075.2,503.4 C1077.6,502.5 1084.5,500.1 1089.7,498.2 C1094.9,496.3 1103.6,493.0 1106.4,491.9" fill="none" stroke="#555" stroke-width="0.7" stroke-dasharray="1.5 4"/>
<path d="M1100.1,523.5 L1131.3,523.5" fill="none" stroke="#222" stroke-width="0.9" stroke-dasharray="5 7"/>
<path d="M1034.7,550.1 C1036.6,548.2 1042.1,542.0 1046.1,538.7 C1050.1,535.4 1053.4,532.8 1058.6,530.4 C1063.8,528.0 1074.2,525.2 1077.3,524.2" fill="none" stroke="#222" stroke-width="0.8" stroke-dasharray="7 5 1.5 5"/>
<path d="M1052.3,556.4 C1055.8,554.6 1066.9,548.6 1073.1,546.0 C1079.4,543.4 1087.0,541.6 1089.7,540.8" fill="none" stroke="#555" stroke-width="0.7" stroke-dasharray="1.5 4"/>
<path d="M1132.3,543.9 L1147.9,543.9" fill="none" stroke="#222" stroke-width="0.9" stroke-dasharray="6 4"/>
<path d="M1185.3,534.5 C1188.1,534.0 1197.1,532.8 1201.9,531.4 C1206.8,530.0 1212.3,527.1 1214.4,526.2" fill="none" stroke="#555" stroke-width="0.7" stroke-dasharray="5 4"/>
<path d="M1319.4,362.1 C1319.8,365.2 1321.0,374.5 1321.8,380.8 C1322.7,387.0 1323.4,393.6 1324.5,399.5 C1325.7,405.4 1327.3,410.6 1328.7,416.1 C1330.1,421.6 1331.5,427.2 1332.9,432.7 C1334.2,438.3 1336.3,446.6 1337.0,449.4" fill="none" stroke="#222" stroke-width="1" stroke-dasharray="18 5"/>
<path d="M1322.5,404.7 L1330.8,400.5" fill="none" stroke="#222" stroke-width="1"/>
<path d="M1241.4,360.0 C1244.2,360.4 1252.5,362.2 1258.1,362.5 C1263.6,362.8 1269.1,362.1 1274.7,361.7 C1280.2,361.2 1288.5,360.3 1291.3,360.0" fill="none" stroke="#222" stroke-width="1" stroke-dasharray="11 4"/>
<path d="M1211.3,364.2 C1209.0,365.9 1202.5,371.9 1197.8,374.5 C1193.1,377.1 1187.7,378.4 1183.2,379.7 C1178.7,381.1 1172.9,382.3 1170.8,382.9" fill="none" stroke="#222" stroke-width="0.9" stroke-dasharray="11 4"/>
<path d="M1172.9,401.6 L1182.2,401.6" fill="none" stroke="#222" stroke-width="0.9" stroke-dasharray="2 3"/>
<path d="M1318.3,567.8 C1320.4,566.8 1326.8,563.6 1330.8,561.6 C1334.7,559.5 1340.1,556.4 1342.0,555.3" fill="none" stroke="#222" stroke-width="0.8" stroke-dasharray="12 4"/>
<path d="M1226.9,589.6 L1245.6,582.3" fill="none" stroke="#222" stroke-width="0.8" stroke-dasharray="10 4"/>
<path d="M1334.9,463.9 L1342.0,459.7" fill="none" stroke="#222" stroke-width="1"/>
<path d="M1330.8,473.2 L1342.0,470.1" fill="none" stroke="#222" stroke-width="0.9"/>
<!-- part5 -->
<defs><pattern id="hx" width="4.7" height="4.7" patternUnits="userSpaceOnUse" patternTransform="rotate(45 1400 400)">
<path d="M0,2.35 H4.7 M2.35,0 V4.7" stroke="#1a1a1a" stroke-width="0.95" fill="none"/></pattern></defs>
<path d="M1463.6,372.9 L1491.6,419.2 L1430.3,487.2 L1405.4,427.5 L1439.7,404.7 L1431.4,392.2 Z" fill="url(#hx)" stroke="#111" stroke-width="1.1"/>
<path d="M1342.0,451.4 C1344.4,449.0 1351.4,441.7 1356.5,436.9 C1361.7,432.0 1367.3,426.9 1373.2,422.3 C1379.1,417.8 1385.6,413.6 1391.9,409.5 C1398.1,405.3 1402.3,402.5 1410.6,397.4 C1418.9,392.3 1433.4,383.9 1441.7,378.7 C1450.1,373.5 1454.9,369.4 1460.4,366.2 C1466.0,363.1 1472.6,361.0 1475.0,360.0" fill="none" stroke="#111" stroke-width="1.2"/>
<path d="M1342.0,457.2 C1344.8,454.6 1353.1,446.5 1358.6,441.5 C1364.2,436.4 1369.4,431.5 1375.2,426.9 C1381.1,422.3 1387.7,417.8 1393.9,413.6 C1400.2,409.4 1404.3,406.8 1412.6,401.6 C1421.0,396.4 1435.3,387.8 1443.8,382.4 C1452.3,377.1 1456.6,373.3 1463.6,369.4 C1470.5,365.4 1481.7,360.7 1485.4,359.0" fill="none" stroke="#111" stroke-width="1.0" stroke-dasharray="10 4"/>
<path d="M1344.1,463.9 C1346.8,461.0 1355.2,451.6 1360.7,446.2 C1366.2,440.9 1371.4,436.4 1377.3,431.7 C1383.2,427.0 1389.8,422.4 1396.0,418.2 C1402.3,413.9 1408.5,410.1 1414.7,406.1 C1421.0,402.1 1430.3,396.3 1433.4,394.3" fill="none" stroke="#111" stroke-width="1.0" stroke-dasharray="12 5"/>
<path d="M1342.0,521.0 C1344.1,520.8 1351.0,520.5 1354.5,519.6 C1357.9,518.7 1360.4,517.7 1362.8,515.8 C1365.2,514.0 1367.3,511.0 1369.0,508.6 C1370.7,506.1 1371.3,505.3 1373.2,501.3 C1375.1,497.3 1378.0,489.9 1380.4,484.7 C1382.9,479.5 1384.8,475.3 1387.7,470.1 C1390.7,464.9 1394.6,458.7 1398.1,453.5 C1401.6,448.3 1406.1,443.8 1408.5,439.0 C1410.9,434.1 1410.6,428.2 1412.6,424.4 C1414.7,420.6 1418.2,418.7 1421.0,416.1 C1423.7,413.5 1426.2,411.1 1429.3,408.8 C1432.4,406.6 1437.2,405.0 1439.7,402.6 C1442.2,400.2 1442.5,396.5 1444.2,394.3 C1446.0,392.1 1448.0,390.4 1450.1,389.5 C1452.1,388.6 1454.0,388.6 1456.3,389.1 C1458.5,389.5 1461.1,390.8 1463.6,392.2 C1466.0,393.6 1468.4,395.3 1470.8,397.4 C1473.3,399.5 1475.7,402.3 1478.1,404.7 C1480.5,407.1 1483.3,410.3 1485.4,411.9 C1487.5,413.6 1488.8,414.2 1490.6,414.9 C1492.3,415.5 1492.8,415.3 1495.8,415.7 C1498.7,416.1 1504.4,416.0 1508.2,417.1 C1512.0,418.3 1515.2,420.4 1518.6,422.3 C1522.1,424.2 1524.7,426.1 1529.0,428.6 C1533.3,431.1 1539.4,434.5 1544.6,437.3 C1549.8,440.1 1555.9,443.6 1560.2,445.2 C1564.5,446.8 1567.1,446.7 1570.6,446.9 C1574.0,447.0 1577.7,447.0 1581.0,446.2 C1584.3,445.4 1587.5,443.6 1590.3,442.1 C1593.1,440.5 1595.3,438.8 1597.6,436.9 C1599.8,435.0 1601.7,432.6 1603.8,430.6 C1605.9,428.7 1607.3,426.9 1610.1,425.5 C1612.8,424.0 1617.0,422.6 1620.4,421.9 C1623.9,421.2 1627.7,421.1 1630.8,421.3 C1633.9,421.5 1636.7,422.1 1639.1,423.0 C1641.6,423.8 1643.6,425.0 1645.4,426.5 C1647.1,427.9 1648.6,429.6 1649.5,431.7 C1650.5,433.8 1651.0,436.0 1651.0,439.0 C1651.0,441.9 1649.8,445.9 1649.5,449.4 C1649.3,452.8 1649.1,456.5 1649.5,459.7 C1649.9,463.0 1651.0,466.3 1652.0,469.1 C1653.1,471.9 1653.8,473.2 1655.8,476.4 C1657.8,479.5 1662.7,485.9 1664.1,487.8" fill="none" stroke="#111" stroke-width="1.3"/>
<path d="M1459.4,584.4 C1459.2,581.0 1458.7,569.9 1458.4,563.6 C1458.0,557.4 1457.7,552.2 1457.3,547.0 C1456.9,541.8 1456.4,537.3 1455.9,532.5 C1455.4,527.6 1454.9,521.9 1454.2,517.9 C1453.5,513.9 1452.2,511.3 1451.7,508.6 C1451.2,505.8 1451.1,503.7 1451.1,501.3 C1451.1,498.9 1451.0,495.8 1451.7,494.0 C1452.4,492.3 1453.6,491.4 1455.2,490.9 C1456.9,490.4 1459.2,490.4 1461.5,490.9 C1463.7,491.4 1466.0,492.5 1468.8,494.0 C1471.5,495.6 1475.0,498.0 1478.1,500.3 C1481.2,502.5 1484.2,504.9 1487.5,507.5 C1490.7,510.1 1494.4,513.1 1497.8,515.8 C1501.3,518.6 1504.8,521.0 1508.2,524.2 C1511.7,527.3 1515.2,531.1 1518.6,534.5 C1522.1,538.0 1525.9,541.6 1529.0,544.9 C1532.1,548.2 1534.6,551.5 1537.3,554.3 C1540.1,557.1 1543.2,559.5 1545.6,561.6 C1548.1,563.6 1550.1,565.0 1551.9,566.8 C1553.7,568.6 1555.2,570.5 1556.4,572.4 C1557.7,574.3 1558.5,576.3 1559.1,578.2 C1559.8,580.0 1560.0,582.5 1560.2,583.4" fill="none" stroke="#111" stroke-width="1.4"/>
<path d="M1469.2,584.4 C1468.9,581.3 1467.9,571.9 1467.3,565.7 C1466.7,559.5 1466.2,552.6 1465.6,547.0 C1465.1,541.5 1464.4,536.6 1464.2,532.5 C1464.0,528.3 1464.1,525.0 1464.6,522.1 C1465.1,519.1 1466.0,516.6 1467.1,514.8 C1468.2,513.0 1469.9,511.6 1471.2,511.3 C1472.6,510.9 1473.8,511.9 1475.0,512.7 C1476.1,513.6 1477.6,515.7 1478.1,516.3" fill="none" stroke="#111" stroke-width="1.1"/>
<path d="M1477.1,548.1 C1476.9,546.5 1475.9,541.5 1476.0,538.7 C1476.2,535.9 1477.4,532.9 1478.1,531.4 C1478.8,530.0 1479.8,530.2 1480.2,530.0" fill="none" stroke="#111" stroke-width="1" stroke-dasharray="14 4"/>
<path d="M1485.4,532.5 C1486.4,533.9 1489.2,538.2 1491.6,540.8 C1494.0,543.4 1498.5,546.8 1499.9,548.1" fill="none" stroke="#111" stroke-width="0.9" stroke-dasharray="10 4"/>
<path d="M1488.5,559.5 C1488.7,558.7 1488.9,555.4 1489.9,554.9 C1491.0,554.4 1492.9,555.3 1494.7,556.4 C1496.6,557.4 1499.9,560.3 1501.0,561.1" fill="none" stroke="#111" stroke-width="1"/>
<path d="M1518.6,567.8 C1520.0,568.8 1524.5,571.4 1526.9,574.0 C1529.4,576.6 1532.1,581.8 1533.2,583.4" fill="none" stroke="#111" stroke-width="0.9" stroke-dasharray="10 5"/>
<path d="M1518.6,578.2 L1521.7,584.4" fill="none" stroke="#111" stroke-width="0.9"/>
<path d="M1548.8,578.2 L1549.8,583.4" fill="none" stroke="#111" stroke-width="1"/>
<path d="M1441.7,585.5 L1443.4,579.2" fill="none" stroke="#111" stroke-width="1"/>
<path d="M1398.1,505.5 C1399.0,503.0 1401.6,495.8 1403.3,490.9 C1405.0,486.1 1406.2,481.9 1408.5,476.4 C1410.7,470.8 1415.4,460.8 1416.8,457.7" fill="none" stroke="#222" stroke-width="0.9"/>
<path d="M1422.0,470.1 C1421.8,473.2 1421.3,482.9 1421.0,488.8 C1420.6,494.7 1420.5,500.6 1419.9,505.5 C1419.3,510.3 1418.1,513.8 1417.2,517.9 C1416.4,522.1 1415.3,526.2 1414.7,530.4 C1414.1,534.5 1414.4,539.4 1413.7,542.9 C1413.0,546.3 1412.5,548.4 1410.6,551.2 C1408.7,553.9 1405.2,557.1 1402.3,559.5 C1399.3,561.9 1396.2,563.3 1392.9,565.7 C1389.6,568.1 1384.3,572.6 1382.5,574.0" fill="none" stroke="#222" stroke-width="0.9"/>
<path d="M1428.2,484.7 C1428.4,488.1 1428.8,498.5 1429.3,505.5 C1429.7,512.4 1430.6,519.3 1430.9,526.2 C1431.3,533.2 1431.3,543.5 1431.4,547.0" fill="none" stroke="#222" stroke-width="0.9"/>
<path d="M1342.0,466.0 C1342.9,467.7 1345.5,472.6 1347.2,476.4 C1348.9,480.2 1350.3,484.3 1352.4,488.8 C1354.5,493.3 1357.2,498.9 1359.7,503.4 C1362.1,507.9 1364.3,511.5 1366.9,515.8 C1369.5,520.2 1372.5,524.8 1375.2,529.4 C1378.0,533.9 1381.4,537.8 1383.6,542.9 C1385.7,547.9 1386.7,553.6 1388.1,559.5 C1389.5,565.4 1390.6,573.7 1391.9,578.2 C1393.2,582.7 1395.3,585.1 1396.0,586.5" fill="none" stroke="#222" stroke-width="1" stroke-dasharray="16 5"/>
<path d="M1362.8,551.2 C1364.5,550.5 1370.1,548.7 1373.2,547.0 C1376.3,545.3 1379.2,543.2 1381.5,540.8 C1383.7,538.4 1385.1,535.4 1386.7,532.5 C1388.2,529.5 1390.1,524.7 1390.8,523.1" fill="none" stroke="#222" stroke-width="0.8" stroke-dasharray="7 3 2 3"/>
<path d="M1382.5,574.0 L1391.9,572.4" fill="none" stroke="#222" stroke-width="1"/>
<path d="M1342.0,579.2 C1342.9,578.9 1345.6,578.4 1347.2,577.1 C1348.8,575.9 1350.7,572.8 1351.4,571.9" fill="none" stroke="#222" stroke-width="1"/>
<path d="M1491.6,419.2 C1492.3,420.6 1494.4,424.9 1495.8,427.5 C1497.2,430.1 1496.8,430.5 1499.9,434.8 C1503.0,439.1 1509.6,447.6 1514.5,453.5 C1519.3,459.4 1524.9,464.9 1529.0,470.1 C1533.2,475.3 1535.9,479.5 1539.4,484.7 C1542.9,489.9 1546.3,495.6 1549.8,501.3 C1553.3,507.0 1556.7,513.1 1560.2,519.0 C1563.6,524.8 1567.1,531.6 1570.6,536.6 C1574.0,541.6 1577.5,545.3 1581.0,549.1 C1584.4,552.9 1587.5,555.8 1591.4,559.5 C1595.2,563.1 1599.7,567.1 1603.8,570.9 C1608.0,574.7 1614.2,580.4 1616.3,582.3" fill="none" stroke="#222" stroke-width="1.1" stroke-dasharray="20 5"/>
<path d="M1618.4,469.1 C1619.7,470.6 1624.3,475.2 1626.7,478.4 C1629.1,481.7 1631.2,485.7 1632.9,488.8 C1634.6,491.9 1635.6,494.4 1636.6,497.1 C1637.7,499.9 1638.7,504.1 1639.1,505.5" fill="none" stroke="#222" stroke-width="0.9" stroke-dasharray="7 6"/>
<path d="M1593.4,536.6 C1595.9,539.0 1603.1,546.0 1608.0,551.2 C1612.8,556.4 1620.1,565.0 1622.5,567.8" fill="none" stroke="#222" stroke-width="0.8" stroke-dasharray="5 7"/>
<path d="M1665.1,542.9 C1664.1,545.3 1660.8,552.6 1658.9,557.4 C1657.0,562.3 1654.6,569.5 1653.7,571.9" fill="none" stroke="#222" stroke-width="1" stroke-dasharray="9 5"/>
<path d="M1639.1,401.6 L1662.0,409.9" fill="none" stroke="#222" stroke-width="0.9" stroke-dasharray="6 5"/>
<path d="M1656.8,361.7 L1656.8,364.6" fill="none" stroke="#111" stroke-width="1.6"/>
<path d="M1506.2,496.1 L1508.2,494.0" fill="none" stroke="#111" stroke-width="1.5"/>
<path d="M1470.8,380.8 L1478.1,380.8" fill="none" stroke="#222" stroke-width="0.8"/>
<path d="M1610.1,427.5 L1610.1,432.7" fill="none" stroke="#222" stroke-width="0.8"/>
<circle cx="1226.8" cy="199.4" r="0.4" fill="#999"/><circle cx="1567.6" cy="173.3" r="0.4" fill="#bbb"/><circle cx="1030.7" cy="329.5" r="0.4" fill="#bbb"/><circle cx="1067.1" cy="325.3" r="0.4" fill="#bbb"/><circle cx="1437.0" cy="398.2" r="0.4" fill="#aaa"/><circle cx="1039.0" cy="231.7" r="0.5" fill="#777"/><circle cx="1292.1" cy="378.7" r="0.6" fill="#bbb"/><circle cx="1075.6" cy="392.8" r="0.5" fill="#777"/><circle cx="1071.7" cy="457.6" r="0.4" fill="#bbb"/><circle cx="1345.0" cy="374.6" r="0.6" fill="#aaa"/><circle cx="1406.1" cy="338.5" r="0.6" fill="#bbb"/><circle cx="1549.1" cy="451.5" r="0.5" fill="#999"/><circle cx="1398.5" cy="371.6" r="0.6" fill="#aaa"/><circle cx="1202.2" cy="580.9" r="0.4" fill="#aaa"/><circle cx="1118.0" cy="287.3" r="0.8" fill="#aaa"/><circle cx="1031.9" cy="437.4" r="0.6" fill="#777"/><circle cx="1481.3" cy="403.4" r="0.8" fill="#999"/><circle cx="1580.4" cy="564.6" r="0.8" fill="#999"/><circle cx="1046.6" cy="452.7" r="0.8" fill="#777"/><circle cx="1495.9" cy="538.0" r="0.6" fill="#999"/><circle cx="1649.3" cy="293.5" r="0.4" fill="#aaa"/><circle cx="1045.4" cy="483.4" r="0.5" fill="#bbb"/><circle cx="1277.6" cy="551.7" r="0.8" fill="#999"/><circle cx="1119.0" cy="314.8" r="0.6" fill="#bbb"/><circle cx="1566.2" cy="527.4" r="0.6" fill="#aaa"/><circle cx="1680.7" cy="444.1" r="0.8" fill="#bbb"/><circle cx="1108.4" cy="211.1" r="0.5" fill="#bbb"/><circle cx="1013.3" cy="512.3" r="0.5" fill="#777"/><circle cx="1198.1" cy="197.0" r="0.6" fill="#777"/><circle cx="1657.9" cy="447.6" r="0.4" fill="#aaa"/><circle cx="1621.2" cy="488.8" r="0.8" fill="#aaa"/><circle cx="1278.3" cy="177.6" r="0.8" fill="#999"/><circle cx="1135.6" cy="582.9" r="0.8" fill="#bbb"/><circle cx="1080.3" cy="406.3" r="0.4" fill="#999"/><circle cx="1393.2" cy="376.8" r="0.6" fill="#999"/><circle cx="1053.2" cy="225.7" r="0.8" fill="#bbb"/><circle cx="1439.6" cy="569.5" r="0.6" fill="#aaa"/><circle cx="1089.1" cy="520.5" r="0.8" fill="#aaa"/><circle cx="1336.4" cy="169.5" r="0.4" fill="#777"/><circle cx="1512.1" cy="350.2" r="0.5" fill="#999"/><circle cx="1145.6" cy="567.9" r="0.6" fill="#bbb"/><circle cx="1477.7" cy="550.5" r="0.6" fill="#999"/><circle cx="1481.9" cy="250.1" r="0.6" fill="#bbb"/><circle cx="1248.7" cy="232.5" r="0.6" fill="#bbb"/><circle cx="1425.1" cy="492.7" r="0.5" fill="#bbb"/><circle cx="1565.6" cy="470.3" r="0.5" fill="#bbb"/><circle cx="1359.6" cy="293.6" r="0.4" fill="#999"/><circle cx="1546.2" cy="347.2" r="0.5" fill="#777"/><circle cx="1311.4" cy="561.0" r="0.6" fill="#777"/><circle cx="1060.2" cy="177.0" r="0.8" fill="#bbb"/><circle cx="1236.4" cy="352.0" r="0.4" fill="#aaa"/><circle cx="1627.8" cy="288.2" r="0.4" fill="#999"/><circle cx="1628.2" cy="489.9" r="0.5" fill="#aaa"/><circle cx="1614.0" cy="329.6" r="0.6" fill="#999"/><circle cx="1553.6" cy="577.0" r="0.8" fill="#aaa"/><circle cx="1279.9" cy="565.5" r="0.5" fill="#bbb"/><circle cx="1685.3" cy="142.7" r="0.8" fill="#bbb"/><circle cx="1423.9" cy="404.1" r="0.8" fill="#777"/><circle cx="1111.8" cy="382.2" r="0.4" fill="#999"/><circle cx="1552.6" cy="464.1" r="0.4" fill="#bbb"/><circle cx="1302.2" cy="531.0" r="0.5" fill="#999"/><circle cx="1177.5" cy="264.8" r="0.5" fill="#777"/><circle cx="1182.7" cy="322.7" r="0.5" fill="#999"/><circle cx="1628.4" cy="292.7" r="0.8" fill="#aaa"/><circle cx="1571.6" cy="534.0" r="0.5" fill="#bbb"/><circle cx="1363.6" cy="138.6" r="0.8" fill="#bbb"/><circle cx="1421.9" cy="487.0" r="0.5" fill="#bbb"/><circle cx="1102.0" cy="414.8" r="0.4" fill="#999"/><circle cx="1228.3" cy="368.4" r="0.8" fill="#999"/><circle cx="1610.0" cy="156.1" r="0.5" fill="#777"/><circle cx="1033.9" cy="175.0" r="0.8" fill="#999"/><circle cx="1525.6" cy="549.7" r="0.8" fill="#777"/><circle cx="1424.6" cy="362.6" r="0.5" fill="#777"/><circle cx="1314.9" cy="375.3" r="0.8" fill="#bbb"/><circle cx="1484.0" cy="533.2" r="0.6" fill="#bbb"/><circle cx="1580.4" cy="193.1" r="0.4" fill="#aaa"/><circle cx="1307.9" cy="163.4" r="0.5" fill="#aaa"/><circle cx="1055.1" cy="438.0" r="0.4" fill="#bbb"/><circle cx="1648.6" cy="426.0" r="0.6" fill="#bbb"/><circle cx="1178.4" cy="193.1" r="0.8" fill="#bbb"/><circle cx="1516.5" cy="173.3" r="0.8" fill="#bbb"/><circle cx="1683.1" cy="512.9" r="0.5" fill="#aaa"/><circle cx="1685.9" cy="315.8" r="0.8" fill="#bbb"/><circle cx="1249.3" cy="172.4" r="0.6" fill="#999"/><circle cx="1236.5" cy="341.0" r="0.4" fill="#aaa"/><circle cx="1232.1" cy="417.0" r="0.4" fill="#999"/><circle cx="1679.8" cy="492.6" r="0.4" fill="#999"/><circle cx="1186.9" cy="148.2" r="0.5" fill="#777"/><circle cx="1522.7" cy="507.1" r="0.6" fill="#aaa"/><circle cx="1107.3" cy="552.8" r="0.8" fill="#777"/><circle cx="1066.3" cy="156.5" r="0.5" fill="#aaa"/><circle cx="1618.3" cy="253.7" r="0.4" fill="#999"/><circle cx="1554.1" cy="168.5" r="0.5" fill="#999"/><circle cx="1186.1" cy="186.0" r="0.4" fill="#777"/><circle cx="1686.1" cy="322.2" r="0.6" fill="#bbb"/><circle cx="1034.6" cy="456.4" r="0.4" fill="#bbb"/><circle cx="1184.4" cy="213.3" r="0.6" fill="#777"/><circle cx="1368.8" cy="224.7" r="0.8" fill="#bbb"/><circle cx="1190.3" cy="499.7" r="0.6" fill="#999"/><circle cx="1015.5" cy="467.2" r="0.5" fill="#aaa"/><circle cx="1173.3" cy="335.6" r="0.8" fill="#aaa"/><circle cx="1378.9" cy="538.8" r="0.6" fill="#bbb"/><circle cx="1678.0" cy="287.6" r="0.5" fill="#aaa"/><circle cx="1682.8" cy="581.7" r="0.5" fill="#999"/><circle cx="1053.4" cy="470.8" r="0.6" fill="#aaa"/><circle cx="1116.8" cy="168.9" r="0.8" fill="#777"/><circle cx="1415.2" cy="448.6" r="0.4" fill="#aaa"/><circle cx="1132.0" cy="253.8" r="0.4" fill="#777"/><circle cx="1254.4" cy="281.3" r="0.6" fill="#bbb"/><circle cx="1028.6" cy="535.9" r="0.5" fill="#777"/><circle cx="1130.3" cy="284.3" r="0.4" fill="#aaa"/><circle cx="1196.1" cy="431.8" r="0.5" fill="#999"/><circle cx="1067.2" cy="505.8" r="0.5" fill="#aaa"/><circle cx="1407.0" cy="311.2" r="0.6" fill="#777"/><circle cx="1436.3" cy="168.9" r="0.5" fill="#aaa"/><circle cx="1528.6" cy="461.5" r="0.8" fill="#bbb"/><circle cx="1199.7" cy="414.6" r="0.5" fill="#999"/><circle cx="1570.0" cy="458.9" r="0.8" fill="#bbb"/><circle cx="1628.3" cy="476.3" r="0.4" fill="#bbb"/><circle cx="1063.3" cy="149.3" r="0.6" fill="#999"/><circle cx="1263.0" cy="337.6" r="0.4" fill="#999"/><circle cx="1434.0" cy="443.1" r="0.8" fill="#777"/><circle cx="1007.3" cy="496.9" r="0.4" fill="#999"/><circle cx="1515.8" cy="348.0" r="0.4" fill="#777"/><circle cx="1165.8" cy="478.0" r="0.5" fill="#aaa"/><circle cx="1343.4" cy="306.0" r="0.8" fill="#777"/><circle cx="1530.4" cy="413.8" r="0.5" fill="#999"/><circle cx="1415.8" cy="282.6" r="0.6" fill="#bbb"/><circle cx="1013.5" cy="157.9" r="0.6" fill="#999"/><circle cx="1479.1" cy="440.8" r="0.6" fill="#777"/><circle cx="1323.3" cy="344.5" r="0.4" fill="#bbb"/><circle cx="1218.5" cy="169.5" r="0.8" fill="#999"/><circle cx="1203.4" cy="165.2" r="0.8" fill="#777"/><circle cx="1270.0" cy="551.6" r="0.5" fill="#999"/><circle cx="1403.3" cy="195.2" r="0.6" fill="#777"/><circle cx="1095.8" cy="507.3" r="0.6" fill="#999"/><circle cx="1486.8" cy="236.4" r="0.8" fill="#aaa"/><circle cx="1022.0" cy="131.7" r="0.8" fill="#aaa"/><circle cx="1282.7" cy="464.5" r="0.8" fill="#777"/><circle cx="1262.6" cy="185.6" r="0.6" fill="#999"/><circle cx="1227.3" cy="285.6" r="0.8" fill="#999"/><circle cx="1648.8" cy="220.0" r="0.4" fill="#777"/><circle cx="1178.5" cy="159.9" r="0.8" fill="#999"/><circle cx="1252.1" cy="326.9" r="0.6" fill="#999"/><circle cx="1197.2" cy="153.7" r="0.6" fill="#bbb"/><circle cx="1175.8" cy="252.2" r="0.6" fill="#bbb"/><circle cx="1534.6" cy="491.2" r="0.8" fill="#999"/><circle cx="1561.2" cy="420.2" r="0.5" fill="#999"/><circle cx="1038.9" cy="466.9" r="0.8" fill="#bbb"/><circle cx="1446.5" cy="261.7" r="0.4" fill="#bbb"/><circle cx="1122.0" cy="320.8" r="0.6" fill="#777"/><circle cx="1180.2" cy="469.8" r="0.6" fill="#aaa"/><circle cx="1454.4" cy="268.4" r="0.8" fill="#999"/><circle cx="1119.6" cy="204.4" r="0.5" fill="#aaa"/><circle cx="1382.0" cy="338.4" r="0.6" fill="#aaa"/><circle cx="1297.8" cy="382.0" r="0.5" fill="#999"/><circle cx="1124.7" cy="385.7" r="0.6" fill="#bbb"/><circle cx="1257.3" cy="502.3" r="0.5" fill="#999"/><circle cx="1518.5" cy="319.9" r="0.8" fill="#bbb"/><circle cx="1263.2" cy="285.6" r="0.4" fill="#aaa"/><circle cx="1195.1" cy="575.1" r="0.5" fill="#bbb"/><circle cx="1068.4" cy="542.5" r="0.8" fill="#aaa"/><circle cx="1447.4" cy="328.6" r="0.6" fill="#999"/><circle cx="1092.2" cy="325.6" r="0.8" fill="#aaa"/><circle cx="1005.1" cy="310.1" r="0.8" fill="#aaa"/><circle cx="1175.2" cy="180.2" r="0.5" fill="#bbb"/><circle cx="1362.8" cy="443.8" r="0.8" fill="#999"/><circle cx="1382.8" cy="148.2" r="0.5" fill="#bbb"/><circle cx="1395.0" cy="147.3" r="0.6" fill="#bbb"/><circle cx="1434.1" cy="373.0" r="0.8" fill="#999"/><circle cx="1073.1" cy="268.2" r="0.5" fill="#aaa"/><circle cx="1183.7" cy="493.6" r="0.4" fill="#999"/><circle cx="1373.2" cy="588.3" r="0.6" fill="#777"/><circle cx="1446.5" cy="536.5" r="0.8" fill="#bbb"/><circle cx="1379.7" cy="143.5" r="0.8" fill="#777"/><circle cx="1042.9" cy="219.3" r="0.8" fill="#999"/><circle cx="1181.2" cy="437.0" r="0.6" fill="#bbb"/><circle cx="1342.7" cy="450.1" r="0.8" fill="#777"/><circle cx="1472.6" cy="221.1" r="0.6" fill="#999"/><circle cx="1145.6" cy="576.1" r="0.6" fill="#bbb"/><circle cx="1163.1" cy="231.9" r="0.6" fill="#999"/><circle cx="1657.1" cy="358.1" r="0.5" fill="#bbb"/><circle cx="1337.3" cy="548.8" r="0.4" fill="#bbb"/><circle cx="1636.5" cy="155.0" r="0.4" fill="#bbb"/><circle cx="1289.5" cy="456.5" r="0.5" fill="#aaa"/><circle cx="1313.0" cy="457.5" r="0.6" fill="#999"/><circle cx="1688.3" cy="558.5" r="0.6" fill="#bbb"/><circle cx="1132.1" cy="560.5" r="0.8" fill="#999"/><circle cx="1218.6" cy="463.7" r="0.6" fill="#777"/><circle cx="1308.1" cy="180.1" r="0.4" fill="#777"/><circle cx="1060.3" cy="323.3" r="0.4" fill="#bbb"/><circle cx="1265.4" cy="483.6" r="0.6" fill="#aaa"/><circle cx="1065.1" cy="454.4" r="0.5" fill="#777"/><circle cx="1375.9" cy="335.3" r="0.6" fill="#777"/><circle cx="1510.1" cy="348.3" r="0.8" fill="#bbb"/><circle cx="1561.1" cy="482.7" r="0.4" fill="#aaa"/><circle cx="1028.9" cy="158.8" r="0.4" fill="#777"/><circle cx="1138.5" cy="158.9" r="0.6" fill="#777"/><circle cx="1191.5" cy="570.5" r="0.4" fill="#777"/><circle cx="1516.3" cy="447.2" r="0.6" fill="#777"/><circle cx="1007.6" cy="477.6" r="0.4" fill="#999"/><circle cx="1570.8" cy="179.3" r="0.8" fill="#aaa"/><circle cx="1546.0" cy="550.2" r="0.8" fill="#bbb"/><circle cx="1640.7" cy="214.2" r="0.6" fill="#bbb"/><circle cx="1421.0" cy="280.8" r="0.6" fill="#aaa"/><circle cx="1252.9" cy="489.8" r="0.4" fill="#bbb"/><circle cx="1273.3" cy="203.6" r="0.8" fill="#999"/><circle cx="1449.9" cy="351.6" r="0.6" fill="#bbb"/><circle cx="1676.5" cy="536.4" r="0.4" fill="#777"/><circle cx="1432.9" cy="225.8" r="0.8" fill="#aaa"/><circle cx="1682.1" cy="577.2" r="0.5" fill="#bbb"/><circle cx="1096.1" cy="342.0" r="0.5" fill="#999"/><circle cx="1539.1" cy="265.2" r="0.6" fill="#777"/><circle cx="1260.5" cy="469.5" r="0.5" fill="#aaa"/><circle cx="1174.5" cy="242.9" r="0.5" fill="#777"/><circle cx="1610.7" cy="396.0" r="0.6" fill="#999"/><circle cx="1276.3" cy="586.5" r="0.5" fill="#999"/><circle cx="1452.5" cy="585.8" r="0.4" fill="#999"/><circle cx="1330.2" cy="506.8" r="0.8" fill="#777"/><circle cx="1032.6" cy="265.1" r="0.4" fill="#999"/><circle cx="1134.9" cy="577.6" r="0.5" fill="#999"/><circle cx="1260.0" cy="528.4" r="0.8" fill="#777"/><circle cx="1535.9" cy="435.8" r="0.4" fill="#999"/><circle cx="1441.7" cy="456.5" r="0.6" fill="#bbb"/><circle cx="1030.7" cy="286.4" r="0.4" fill="#bbb"/><circle cx="1689.9" cy="147.6" r="0.5" fill="#999"/><circle cx="1565.9" cy="318.1" r="0.6" fill="#bbb"/><circle cx="1430.4" cy="165.8" r="0.4" fill="#aaa"/><circle cx="1380.4" cy="159.1" r="0.4" fill="#aaa"/><circle cx="1459.9" cy="201.1" r="0.4" fill="#bbb"/><circle cx="1277.5" cy="254.7" r="0.6" fill="#777"/><circle cx="1291.2" cy="153.6" r="0.6" fill="#aaa"/><circle cx="1290.3" cy="527.6" r="0.6" fill="#bbb"/><circle cx="1272.7" cy="316.3" r="0.4" fill="#aaa"/><circle cx="1622.6" cy="324.9" r="0.4" fill="#aaa"/><circle cx="1400.8" cy="297.8" r="0.5" fill="#bbb"/><circle cx="1015.2" cy="383.7" r="0.8" fill="#999"/><circle cx="1397.4" cy="556.5" r="0.5" fill="#bbb"/><circle cx="1243.3" cy="204.4" r="0.5" fill="#999"/><circle cx="1079.5" cy="355.6" r="0.5" fill="#777"/><circle cx="1091.8" cy="563.8" r="0.8" fill="#777"/><circle cx="1041.6" cy="556.0" r="0.8" fill="#999"/><circle cx="1624.4" cy="415.4" r="0.5" fill="#bbb"/><circle cx="1430.4" cy="412.8" r="0.5" fill="#aaa"/><circle cx="1130.3" cy="230.3" r="0.8" fill="#bbb"/><circle cx="1267.7" cy="186.6" r="0.5" fill="#bbb"/><circle cx="1033.2" cy="388.7" r="0.4" fill="#777"/><circle cx="1085.6" cy="405.8" r="0.6" fill="#aaa"/><circle cx="1216.1" cy="244.7" r="0.8" fill="#777"/><circle cx="1311.1" cy="331.6" r="0.4" fill="#999"/><circle cx="1428.9" cy="355.2" r="0.5" fill="#aaa"/><circle cx="1528.0" cy="488.8" r="0.8" fill="#bbb"/><circle cx="1560.2" cy="314.2" r="0.4" fill="#bbb"/><circle cx="1250.6" cy="298.1" r="0.8" fill="#999"/><circle cx="1032.8" cy="189.9" r="0.6" fill="#999"/><circle cx="1042.2" cy="361.8" r="0.8" fill="#bbb"/><circle cx="1022.7" cy="160.5" r="0.4" fill="#bbb"/><circle cx="1095.2" cy="537.4" r="0.6" fill="#bbb"/><circle cx="1475.0" cy="461.7" r="0.5" fill="#999"/><circle cx="1575.6" cy="410.8" r="0.6" fill="#bbb"/>
<!-- part6 -->
<g transform="translate(893.0,605.5) rotate(-0.78)">
<rect x="0" y="0" width="340.5" height="166.3" fill="none" stroke="#1a1a1a" stroke-width="1.2"/>
<line x1="0" y1="32.4" x2="340.5" y2="32.4" stroke="#222" stroke-width="1.0"/>
<line x1="0" y1="48.3" x2="340.5" y2="48.3" stroke="#222" stroke-width="1.0"/>
<line x1="0" y1="67.1" x2="340.5" y2="67.1" stroke="#222" stroke-width="1.0"/>
<line x1="0" y1="85.3" x2="340.5" y2="85.3" stroke="#222" stroke-width="1.0"/>
<line x1="0" y1="103.5" x2="340.5" y2="103.5" stroke="#222" stroke-width="1.0"/>
<line x1="0" y1="127.3" x2="340.5" y2="127.3" stroke="#222" stroke-width="1.0"/>
<line x1="0" y1="148.1" x2="340.5" y2="148.1" stroke="#222" stroke-width="1.0"/>
<line x1="85.29999999999995" y1="32.4" x2="85.29999999999995" y2="166.3" stroke="#222" stroke-width="1.0"/>
<line x1="208.29999999999995" y1="32.4" x2="208.29999999999995" y2="166.3" stroke="#222" stroke-width="1.0"/>
<text transform="translate(52,13.2)" font-family="Liberation Serif" font-size="15.2" fill="#111" textLength="236" lengthAdjust="spacingAndGlyphs">ΠΙΝΑΚΑΣ  ΣΥΝΤΕΤΑΓΜΕΝΩΝ ΕΓΣΑ΄87</text>
<text transform="translate(10,29.6)" font-family="Liberation Serif" font-size="15.2" fill="#111" textLength="208" lengthAdjust="spacingAndGlyphs">ΤΜΗΜΑ 1 :(1-2-3-…6-1):ΕΜΒΑΔΟΥ</text>
<text transform="translate(229,29.6)" font-family="Liberation Serif" font-size="15.2" font-weight="bold" fill="#111" textLength="33" lengthAdjust="spacingAndGlyphs">6,539</text>
<text transform="translate(267,29.6)" font-family="Liberation Serif" font-size="15.2" fill="#111" textLength="27" lengthAdjust="spacingAndGlyphs">ΣΤΡ.</text>
<text transform="translate(17,46.5)" font-family="Liberation Serif" font-size="15.2" fill="#111" textLength="53" lengthAdjust="spacingAndGlyphs">ΣΗΜΕΙΟ</text>
<text transform="translate(143,46.5)" font-family="Liberation Serif" font-size="15.2" fill="#111">Χ</text>
<text transform="translate(272,46.5)" font-family="Liberation Serif" font-size="15.2" fill="#111">Ψ</text>
<text transform="translate(38.5,64.3)" font-family="Liberation Serif" font-size="15.7" fill="#111">1</text>
<text transform="translate(102,64.3)" font-family="Liberation Serif" font-size="15.7" fill="#111" textLength="88" lengthAdjust="spacingAndGlyphs">X=406808.806</text>
<text transform="translate(216.3,64.6)" font-family="Liberation Serif" font-size="15.7" fill="#111" textLength="95" lengthAdjust="spacingAndGlyphs">Y=4270738.826</text>
<text transform="translate(38.5,82.5)" font-family="Liberation Serif" font-size="15.7" fill="#111">2</text>
<text transform="translate(102,82.5)" font-family="Liberation Serif" font-size="15.7" fill="#111" textLength="88" lengthAdjust="spacingAndGlyphs">X=406838.692</text>
<text transform="translate(216.3,82.8)" font-family="Liberation Serif" font-size="15.7" fill="#111" textLength="95" lengthAdjust="spacingAndGlyphs">Y=4270682.174</text>
<text transform="translate(38.5,100.7)" font-family="Liberation Serif" font-size="15.7" fill="#111">3</text>
<text transform="translate(102,100.7)" font-family="Liberation Serif" font-size="15.7" fill="#111" textLength="88" lengthAdjust="spacingAndGlyphs">X=406767.214</text>
<text transform="translate(216.3,101.0)" font-family="Liberation Serif" font-size="15.7" fill="#111" textLength="95" lengthAdjust="spacingAndGlyphs">Y=4270604.047</text>
<text transform="translate(38.5,118.6)" font-family="Liberation Serif" font-size="15.7" fill="#111">4</text>
<text transform="translate(102,118.6)" font-family="Liberation Serif" font-size="15.7" fill="#111" textLength="88" lengthAdjust="spacingAndGlyphs">X=406738.649</text>
<text transform="translate(216.3,118.89999999999999)" font-family="Liberation Serif" font-size="15.7" fill="#111" textLength="95" lengthAdjust="spacingAndGlyphs">Y=4270674.680</text>
<text transform="translate(38.5,142.3)" font-family="Liberation Serif" font-size="15.7" fill="#111">5</text>
<text transform="translate(102,142.3)" font-family="Liberation Serif" font-size="15.7" fill="#111" textLength="88" lengthAdjust="spacingAndGlyphs">X=406781.265</text>
<text transform="translate(216.3,142.60000000000002)" font-family="Liberation Serif" font-size="15.7" fill="#111" textLength="95" lengthAdjust="spacingAndGlyphs">Y=4270699.886</text>
<text transform="translate(38.5,163.8)" font-family="Liberation Serif" font-size="15.7" fill="#111">6</text>
<text transform="translate(102,163.8)" font-family="Liberation Serif" font-size="15.7" fill="#111" textLength="88" lengthAdjust="spacingAndGlyphs">X=406769.957</text>
<text transform="translate(216.3,164.10000000000002)" font-family="Liberation Serif" font-size="15.7" fill="#111" textLength="95" lengthAdjust="spacingAndGlyphs">Y=4270715.538</text>
</g>
<g transform="translate(1258.6,601.9) rotate(0.65)">
<rect x="0" y="0" width="142.6" height="170.3" fill="none" stroke="#1a1a1a" stroke-width="1.2"/>
<line x1="0" y1="61.5" x2="142.6" y2="61.5" stroke="#222" stroke-width="1.0"/>
<line x1="0" y1="79.7" x2="142.6" y2="79.7" stroke="#222" stroke-width="1.0"/>
<line x1="0" y1="97.9" x2="142.6" y2="97.9" stroke="#222" stroke-width="1.0"/>
<line x1="0" y1="116.1" x2="142.6" y2="116.1" stroke="#222" stroke-width="1.0"/>
<line x1="0" y1="134.3" x2="142.6" y2="134.3" stroke="#222" stroke-width="1.0"/>
<line x1="0" y1="152.5" x2="142.6" y2="152.5" stroke="#222" stroke-width="1.0"/>
<line x1="62.2" y1="61.5" x2="62.2" y2="170.3" stroke="#222" stroke-width="1.0"/>
<text transform="translate(43,13.4)" font-family="Liberation Serif" font-size="15.2" fill="#111" textLength="59" lengthAdjust="spacingAndGlyphs">ΠΙΝΑΚΑΣ</text>
<text transform="translate(27,28.8)" font-family="Liberation Serif" font-size="15.2" fill="#111" textLength="89" lengthAdjust="spacingAndGlyphs">ΑΠΟΣΤΑΣΕΩΝ</text>
<text transform="translate(11,44.2)" font-family="Liberation Serif" font-size="15.2" fill="#111" textLength="120" lengthAdjust="spacingAndGlyphs">ΜΕΤΑΞΥ ΣΗΜΕΙΩΝ</text>
<text transform="translate(36,59.4)" font-family="Liberation Serif" font-size="15.2" fill="#111" textLength="72" lengthAdjust="spacingAndGlyphs">ΣΕ  ΜΕΤΡΑ</text>
<text transform="translate(22,76.1)" font-family="Liberation Serif" font-size="15.7" fill="#111" textLength="18" lengthAdjust="spacingAndGlyphs">1-2</text>
<text transform="translate(85.5,76.69999999999999)" font-family="Liberation Serif" font-size="15.7" fill="#111" textLength="34" lengthAdjust="spacingAndGlyphs">64,05</text>
<text transform="translate(22,94.3)" font-family="Liberation Serif" font-size="15.7" fill="#111" textLength="18" lengthAdjust="spacingAndGlyphs">2-3</text>
<text transform="translate(81.5,94.89999999999999)" font-family="Liberation Serif" font-size="15.7" fill="#111" textLength="42" lengthAdjust="spacingAndGlyphs">105,89</text>
<text transform="translate(22,112.5)" font-family="Liberation Serif" font-size="15.7" fill="#111" textLength="18" lengthAdjust="spacingAndGlyphs">3-4</text>
<text transform="translate(85.5,113.1)" font-family="Liberation Serif" font-size="15.7" fill="#111" textLength="34" lengthAdjust="spacingAndGlyphs">76,19</text>
<text transform="translate(22,130.7)" font-family="Liberation Serif" font-size="15.7" fill="#111" textLength="18" lengthAdjust="spacingAndGlyphs">4-5</text>
<text transform="translate(85.5,131.29999999999998)" font-family="Liberation Serif" font-size="15.7" fill="#111" textLength="34" lengthAdjust="spacingAndGlyphs">49,51</text>
<text transform="translate(22,148.9)" font-family="Liberation Serif" font-size="15.7" fill="#111" textLength="18" lengthAdjust="spacingAndGlyphs">5-6</text>
<text transform="translate(85.5,149.5)" font-family="Liberation Serif" font-size="15.7" fill="#111" textLength="34" lengthAdjust="spacingAndGlyphs">19,31</text>
<text transform="translate(22,167.1)" font-family="Liberation Serif" font-size="15.7" fill="#111" textLength="18" lengthAdjust="spacingAndGlyphs">6-1</text>
<text transform="translate(85.5,167.7)" font-family="Liberation Serif" font-size="15.7" fill="#111" textLength="34" lengthAdjust="spacingAndGlyphs">45,29</text>
</g>
<!-- part8 -->
<circle cx="684.3" cy="1035.6" r="82.3" fill="none" stroke="#1a1a1a" stroke-width="1.5"/>
<circle cx="684.3" cy="1035.6" r="61.7" fill="none" stroke="#1a1a1a" stroke-width="1.4"/>
<path id="s1a" d="M665.24,1097.95 A65.2,65.2 0 1 1 703.36,973.25 A65.2,65.2 0 1 1 665.24,1097.95" fill="none"/>
<text font-family="Liberation Sans" font-size="18" fill="#1a1a1a" stroke="#1a1a1a" stroke-width="0.75"><textPath href="#s1a" textLength="173.0" lengthAdjust="spacing">ΕΛΛΗΝΙΚΗ  ΔΗ</textPath></text>
<path id="s1a2" d="M682.02,970.44 A65.2,65.2 0 1 1 686.58,1100.76 A65.2,65.2 0 1 1 682.02,970.44" fill="none"/>
<text font-family="Liberation Sans" font-size="18" fill="#c4c4c4"><textPath href="#s1a2" textLength="47.8" lengthAdjust="spacing">ΜΟΚ</textPath></text>
<path id="s1a3" d="M732.75,991.97 A65.2,65.2 0 1 1 635.85,1079.23 A65.2,65.2 0 1 1 732.75,991.97" fill="none"/>
<text font-family="Liberation Sans" font-size="18" fill="#1a1a1a" stroke="#1a1a1a" stroke-width="0.5"><textPath href="#s1a3" textLength="75.1" lengthAdjust="spacing">ΡΑΤΙΑ</textPath></text>
<path id="s1b" d="M690.17,1083.44 A48.2,48.2 0 1 1 678.43,987.76 A48.2,48.2 0 1 1 690.17,1083.44" fill="none"/>
<text font-family="Liberation Sans" font-size="13.5" fill="#1a1a1a" font-weight="bold"><textPath href="#s1b" textLength="267.5" lengthAdjust="spacingAndGlyphs">ΑΠΟΚΕΝΤΡΩΜΕΝΗ ΔΙΟΙΚΗΣΗ ΘΕΣΣΑΛΙΑΣ  ΣΤΕΡΕΑΣ ΕΛΛΑΔΑΣ</textPath></text>
<path id="s1c" d="M663.22,1061.63 A33.5,33.5 0 1 1 705.38,1009.57 A33.5,33.5 0 1 1 663.22,1061.63" fill="none"/>
<text font-family="Liberation Sans" font-size="9.6" fill="#1a1a1a" stroke="#1a1a1a" stroke-width="0.2"><textPath href="#s1c" textLength="132.1" lengthAdjust="spacing">ΔΙΝΣΗ ΔΑΣΩΝ Ν. ΦΘ/ΔΑΣ</textPath></text>
<ellipse cx="688.1" cy="1061.5" rx="4.5" ry="1.8" transform="rotate(145 688.1 1061.5)" fill="#1a1a1a" opacity="0.8"/><ellipse cx="694.8" cy="1059.2" rx="4.5" ry="1.8" transform="rotate(130 694.8 1059.2)" fill="#1a1a1a" opacity="0.8"/><ellipse cx="700.6" cy="1055.3" rx="4.5" ry="1.8" transform="rotate(115 700.6 1055.3)" fill="#1a1a1a" opacity="0.8"/><ellipse cx="705.4" cy="1049.9" rx="4.5" ry="1.8" transform="rotate(100 705.4 1049.9)" fill="#1a1a1a" opacity="0.8"/><ellipse cx="708.6" cy="1043.4" rx="4.5" ry="1.8" transform="rotate(85 708.6 1043.4)" fill="#1a1a1a" opacity="0.8"/><ellipse cx="710.1" cy="1036.2" rx="4.5" ry="1.8" transform="rotate(70 710.1 1036.2)" fill="#1a1a1a" opacity="0.8"/><ellipse cx="709.8" cy="1028.9" rx="4.5" ry="1.8" transform="rotate(55 709.8 1028.9)" fill="#1a1a1a" opacity="0.8"/><ellipse cx="707.7" cy="1021.9" rx="4.5" ry="1.8" transform="rotate(40 707.7 1021.9)" fill="#1a1a1a" opacity="0.8"/><ellipse cx="703.9" cy="1015.8" rx="4.5" ry="1.8" transform="rotate(25 703.9 1015.8)" fill="#1a1a1a" opacity="0.8"/><ellipse cx="670.2" cy="1058.1" rx="4.5" ry="1.8" transform="rotate(235 670.2 1058.1)" fill="#1a1a1a" opacity="0.8"/><ellipse cx="664.6" cy="1053.7" rx="4.5" ry="1.8" transform="rotate(250 664.6 1053.7)" fill="#1a1a1a" opacity="0.8"/><ellipse cx="660.4" cy="1047.8" rx="4.5" ry="1.8" transform="rotate(265 660.4 1047.8)" fill="#1a1a1a" opacity="0.8"/><ellipse cx="657.7" cy="1041.1" rx="4.5" ry="1.8" transform="rotate(280 657.7 1041.1)" fill="#1a1a1a" opacity="0.8"/><ellipse cx="656.8" cy="1033.8" rx="4.5" ry="1.8" transform="rotate(295 656.8 1033.8)" fill="#1a1a1a" opacity="0.8"/><ellipse cx="657.7" cy="1026.5" rx="4.5" ry="1.8" transform="rotate(310 657.7 1026.5)" fill="#1a1a1a" opacity="0.8"/><ellipse cx="660.4" cy="1019.8" rx="4.5" ry="1.8" transform="rotate(325 660.4 1019.8)" fill="#1a1a1a" opacity="0.8"/><ellipse cx="664.6" cy="1013.9" rx="4.5" ry="1.8" transform="rotate(340 664.6 1013.9)" fill="#1a1a1a" opacity="0.8"/><ellipse cx="670.2" cy="1009.5" rx="4.5" ry="1.8" transform="rotate(355 670.2 1009.5)" fill="#1a1a1a" opacity="0.8"/>
<path d="M668.4,1017.6 H698.6 V1039.5 Q698.6,1050.0 683.5,1051.6 Q668.4,1050.0 668.4,1039.5 Z" fill="none" stroke="#1a1a1a" stroke-width="1.1"/>
<path d="M671.4,1020.8 H695.6 V1038.7 Q695.6,1046.8 683.5,1048.4 Q671.4,1046.8 671.4,1038.7 Z" fill="none" stroke="#1a1a1a" stroke-width="0.77"/>
<path d="M683.5,1021.6 V1046.8 M672.2,1033.8 H694.8" fill="none" stroke="#fff" stroke-width="2.8600000000000003"/>
<path d="M681.3,1021.6 V1046.8 M685.7,1021.6 V1046.8 M672.2,1031.6 H694.8 M672.2,1036.0 H694.8" fill="none" stroke="#1a1a1a" stroke-width="0.66"/>
<rect x="673.2" y="1023.4" width="7.9" height="7.8" fill="#1a1a1a" opacity="0.45"/><rect x="685.9" y="1023.4" width="7.9" height="7.8" fill="#1a1a1a" opacity="0.45"/><rect x="673.2" y="1036.4" width="7.9" height="7.8" fill="#1a1a1a" opacity="0.45"/><rect x="685.9" y="1036.4" width="7.9" height="7.8" fill="#1a1a1a" opacity="0.45"/>
<path d="M702.6,1065.0 L703.0,1067.3 L705.4,1067.8 L703.3,1069.0 L703.5,1071.4 L701.8,1069.7 L699.6,1070.7 L700.6,1068.5 L699.0,1066.7 L701.4,1067.0 Z" fill="#1a1a1a" stroke="#1a1a1a" stroke-width="0.6"/>
<path d="M707.2,1074.9 L708.7,1077.4 L711.6,1077.0 L709.6,1079.2 L710.9,1081.9 L708.2,1080.7 L706.1,1082.8 L706.3,1079.8 L703.7,1078.4 L706.6,1077.8 Z" fill="#1a1a1a" stroke="#1a1a1a" stroke-width="0.6"/>
<path d="M719.5,1093.3 L719.8,1096.4 L722.8,1097.4 L719.9,1098.6 L720.0,1101.7 L717.9,1099.4 L715.0,1100.4 L716.6,1097.7 L714.7,1095.2 L717.7,1095.9 Z" fill="#1a1a1a" stroke="#1a1a1a" stroke-width="0.6"/>
<g opacity="0.8">
<circle cx="989.4" cy="1074.9" r="84" fill="none" stroke="#444" stroke-width="1.9"/>
<circle cx="989.4" cy="1074.9" r="61.4" fill="none" stroke="#444" stroke-width="1.8"/>
<circle cx="989.4" cy="1074.9" r="40.4" fill="none" stroke="#444" stroke-width="1.8"/>
<path id="s2a" d="M966.83,1136.92 A66,66 0 1 1 1011.97,1012.88 A66,66 0 1 1 966.83,1136.92" fill="none"/>
<text font-family="Liberation Sans" font-size="17.5" fill="#444" stroke="#444" stroke-width="0.5"><textPath href="#s2a" textLength="221.2" lengthAdjust="spacing">ΕΛΛΗΝΙΚΗ  ΔΗΜΟ</textPath></text>
<path id="s2a2" d="M1033.56,1025.85 A66,66 0 1 1 945.24,1123.95 A66,66 0 1 1 1033.56,1025.85" fill="none"/>
<text font-family="Liberation Sans" font-size="17.5" fill="#999"><textPath href="#s2a2" textLength="80.6" lengthAdjust="spacing">ΚΡΑΤΙΑ</textPath></text>
<path id="s2b" d="M1003.46,1118.17 A45.5,45.5 0 1 1 975.34,1031.63 A45.5,45.5 0 1 1 1003.46,1118.17" fill="none"/>
<text font-family="Liberation Sans" font-size="14.5" fill="#444"><textPath href="#s2b" textLength="254.1" lengthAdjust="spacingAndGlyphs">ΑΠΟΚΕΝΤΡΩΜΕΝΗ ΔΙΟΙΚΗΣΗ ΘΕΣΣΑΛΙΑΣ  ΣΤΕΡΕΑΣ ΕΛΛΑΔΑΣ</textPath></text>
<ellipse cx="995.7" cy="1109.1" rx="5.6" ry="2.3" transform="rotate(145 995.7 1109.1)" fill="#666" opacity="0.8"/><ellipse cx="1003.9" cy="1106.3" rx="5.6" ry="2.3" transform="rotate(130 1003.9 1106.3)" fill="#666" opacity="0.8"/><ellipse cx="1011.1" cy="1101.5" rx="5.6" ry="2.3" transform="rotate(115 1011.1 1101.5)" fill="#666" opacity="0.8"/><ellipse cx="1016.9" cy="1094.8" rx="5.6" ry="2.3" transform="rotate(100 1016.9 1094.8)" fill="#666" opacity="0.8"/><ellipse cx="1020.9" cy="1086.8" rx="5.6" ry="2.3" transform="rotate(85 1020.9 1086.8)" fill="#666" opacity="0.8"/><ellipse cx="1022.7" cy="1078.0" rx="5.6" ry="2.3" transform="rotate(70 1022.7 1078.0)" fill="#666" opacity="0.8"/><ellipse cx="1022.4" cy="1069.0" rx="5.6" ry="2.3" transform="rotate(55 1022.4 1069.0)" fill="#666" opacity="0.8"/><ellipse cx="1019.8" cy="1060.4" rx="5.6" ry="2.3" transform="rotate(40 1019.8 1060.4)" fill="#666" opacity="0.8"/><ellipse cx="1015.2" cy="1052.8" rx="5.6" ry="2.3" transform="rotate(25 1015.2 1052.8)" fill="#666" opacity="0.8"/><ellipse cx="973.6" cy="1104.9" rx="5.6" ry="2.3" transform="rotate(235 973.6 1104.9)" fill="#666" opacity="0.8"/><ellipse cx="966.8" cy="1099.5" rx="5.6" ry="2.3" transform="rotate(250 966.8 1099.5)" fill="#666" opacity="0.8"/><ellipse cx="961.6" cy="1092.3" rx="5.6" ry="2.3" transform="rotate(265 961.6 1092.3)" fill="#666" opacity="0.8"/><ellipse cx="958.3" cy="1083.9" rx="5.6" ry="2.3" transform="rotate(280 958.3 1083.9)" fill="#666" opacity="0.8"/><ellipse cx="957.1" cy="1075.0" rx="5.6" ry="2.3" transform="rotate(295 957.1 1075.0)" fill="#666" opacity="0.8"/><ellipse cx="958.3" cy="1066.1" rx="5.6" ry="2.3" transform="rotate(310 958.3 1066.1)" fill="#666" opacity="0.8"/><ellipse cx="961.6" cy="1057.7" rx="5.6" ry="2.3" transform="rotate(325 961.6 1057.7)" fill="#666" opacity="0.8"/><ellipse cx="966.8" cy="1050.5" rx="5.6" ry="2.3" transform="rotate(340 966.8 1050.5)" fill="#666" opacity="0.8"/><ellipse cx="973.6" cy="1045.1" rx="5.6" ry="2.3" transform="rotate(355 973.6 1045.1)" fill="#666" opacity="0.8"/>
<path d="M971.4,1055.0 H1008.6 V1082.0 Q1008.6,1095.0 990.0,1096.9 Q971.4,1095.0 971.4,1082.0 Z" fill="none" stroke="#666" stroke-width="1.1"/>
<path d="M975.1,1059.0 H1004.9 V1081.0 Q1004.9,1091.0 990.0,1093.0 Q975.1,1091.0 975.1,1081.0 Z" fill="none" stroke="#666" stroke-width="0.77"/>
<path d="M990.0,1060.0 V1091.0 M976.0,1075.0 H1004.0" fill="none" stroke="#fff" stroke-width="2.8600000000000003"/>
<path d="M987.3,1060.0 V1091.0 M992.7,1060.0 V1091.0 M976.0,1072.3 H1004.0 M976.0,1077.7 H1004.0" fill="none" stroke="#666" stroke-width="0.66"/>
<rect x="977.3" y="1062.2" width="9.7" height="9.6" fill="#666" opacity="0.45"/><rect x="993.0" y="1062.2" width="9.7" height="9.6" fill="#666" opacity="0.45"/><rect x="977.3" y="1078.2" width="9.7" height="9.6" fill="#666" opacity="0.45"/><rect x="993.0" y="1078.2" width="9.7" height="9.6" fill="#666" opacity="0.45"/>
<path d="M1028.8,1136.6 L1029.4,1139.7 L1032.5,1140.4 L1029.7,1141.9 L1030.0,1145.0 L1027.7,1142.9 L1024.8,1144.1 L1026.1,1141.3 L1024.0,1138.9 L1027.2,1139.3 Z" fill="#444" stroke="#444" stroke-width="0.6"/>
</g>
<path d="M881.8,995.1 C877.1,995.8 864.1,997.4 853.5,999.2 C842.9,1001.0 829.9,1003.4 818.1,1005.9 C806.3,1008.4 794.5,1010.5 782.6,1014.2 C770.8,1017.9 755.9,1024.0 747.2,1028.1 C738.6,1032.2 734.3,1036.2 730.7,1038.8 C727.1,1041.4 724.6,1042.7 725.4,1043.7 C726.2,1044.7 731.8,1044.9 735.4,1044.9 C739.1,1044.9 739.4,1044.9 747.2,1043.7 C755.1,1042.5 770.8,1040.4 782.6,1037.6 C794.5,1034.8 808.2,1030.7 818.1,1026.9 C827.9,1023.2 835.2,1018.1 841.7,1015.1 C848.2,1012.2 852.5,1010.8 857.0,1009.2 C861.6,1007.7 866.9,1006.5 868.8,1005.9" fill="none" stroke="#111" stroke-width="1.3"/>
<path d="M766.1,1036.4 C767.9,1034.2 772.6,1028.5 776.7,1023.4 C780.9,1018.3 787.0,1009.3 790.9,1005.9 C794.8,1002.6 796.6,1003.6 800.4,1003.3 C804.1,1003.1 811.8,1003.5 813.3,1004.5 C814.9,1005.5 812.6,1007.9 809.8,1009.2 C807.0,1010.6 797.4,1012.4 796.8,1012.8 C796.2,1013.2 802.7,1011.6 806.3,1011.6 C809.8,1011.6 814.9,1012.1 818.1,1012.5 C821.2,1013.0 824.0,1013.9 825.1,1014.2" fill="none" stroke="#111" stroke-width="1.3"/>
<path d="M761.4,1016.9 C763.4,1016.6 769.3,1015.6 773.2,1015.1 C777.1,1014.6 782.1,1013.6 785.0,1014.0 C788.0,1014.4 791.3,1016.6 790.9,1017.5 C790.5,1018.4 784.0,1019.0 782.6,1019.3" fill="none" stroke="#111" stroke-width="1.0"/>
<path d="M793.3,1032.9 C794.8,1031.7 799.6,1027.9 802.7,1025.8 C805.9,1023.6 811.6,1019.1 812.2,1019.9 C812.8,1020.7 805.3,1029.7 806.3,1030.5 C807.2,1031.3 814.1,1026.6 818.1,1024.6 C822.0,1022.6 827.1,1020.1 829.9,1018.7 C832.6,1017.3 835.0,1015.6 834.6,1016.3 C834.2,1017.0 828.7,1021.7 827.5,1022.8" fill="none" stroke="#111" stroke-width="1.3"/>
<path d="M855.8,1015.1 C857.0,1015.0 860.0,1014.9 862.9,1014.2 C865.9,1013.5 871.8,1011.5 873.6,1011.0" fill="none" stroke="#111" stroke-width="1.1"/>
<path d="M1115.8,1032.1 C1115.6,1031.6 1115.6,1029.9 1114.6,1029.3 C1113.6,1028.6 1114.6,1028.5 1109.9,1028.1 C1105.1,1027.7 1096.1,1027.2 1086.3,1027.2 C1076.4,1027.1 1062.6,1027.2 1050.8,1027.7 C1039.0,1028.3 1024.7,1029.5 1015.4,1030.7 C1006.2,1031.9 999.4,1033.5 995.3,1034.8 C991.3,1036.1 991.2,1037.1 991.2,1038.4 C991.2,1039.6 993.3,1041.0 995.3,1042.5 C997.4,1044.0 998.3,1043.9 1003.6,1047.2 C1008.9,1050.6 1020.3,1057.7 1027.2,1062.6 C1034.1,1067.5 1039.2,1072.0 1044.9,1076.7 C1050.6,1081.5 1058.7,1088.7 1061.5,1091.1" fill="none" stroke="#111" stroke-width="1.4"/>
<path d="M1061.5,1091.1 L1065.0,1053.1 L1068.2,1021.3 L1066.2,1039.0 L1062.6,1029.5 L1058.5,1023.6 L1050.8,1044.9 L1048.2,1034.2 L1045.6,1049.6 L1044.0,1039.0 L1042.8,1053.4" fill="none" stroke="#111" stroke-width="1.1" stroke-linejoin="round"/>
<path d="M1050.8,1059.0 C1054.8,1058.3 1066.6,1056.0 1074.5,1054.9 C1082.3,1053.8 1090.4,1053.2 1098.1,1052.5 C1105.7,1051.9 1116.6,1051.3 1120.3,1051.0" fill="none" stroke="#111" stroke-width="1.1"/>
<path d="M1120.3,1051.0 C1116.6,1050.4 1104.7,1048.4 1098.1,1047.2 C1091.4,1046.0 1084.9,1044.6 1080.4,1043.7 C1075.8,1042.8 1070.9,1042.1 1070.9,1041.9 C1070.9,1041.8 1078.8,1042.6 1080.4,1042.7" fill="none" stroke="#111" stroke-width="1.1"/>
<path d="M980.0,1034.5 C981.2,1034.3 984.5,1033.6 987.1,1033.6 C989.6,1033.7 994.0,1034.6 995.3,1034.8" fill="none" stroke="#111" stroke-width="1.1"/>
<path d="M1250.0,1012.3 C1249.8,1017.9 1249.0,1033.5 1248.8,1046.3 C1248.5,1059.0 1247.8,1075.6 1248.3,1088.8 C1248.8,1101.9 1251.2,1119.2 1251.7,1125.3" fill="none" stroke="#111" stroke-width="1.4"/>
<path d="M1248.8,1059.0 C1249.0,1064.0 1249.5,1077.7 1250.5,1088.8 C1251.4,1099.8 1253.6,1119.2 1254.3,1125.3" fill="none" stroke="#111" stroke-width="1.0"/>
<path d="M1236.0,1031.4 C1234.4,1032.6 1228.6,1035.5 1226.4,1038.8 C1224.3,1042.2 1222.5,1048.8 1223.3,1051.6 C1224.0,1054.3 1227.2,1056.7 1230.7,1055.2 C1234.2,1053.7 1240.4,1046.0 1244.5,1042.4 C1248.6,1038.8 1250.8,1037.5 1255.1,1033.5 C1259.5,1029.5 1269.9,1019.4 1270.4,1018.6 C1271.0,1017.9 1261.9,1025.3 1258.3,1028.8 C1254.7,1032.4 1248.8,1038.0 1248.8,1039.9 C1248.8,1041.7 1255.1,1038.8 1258.3,1039.9 C1261.5,1040.9 1265.4,1043.1 1267.9,1046.3 C1270.4,1049.4 1273.0,1054.2 1273.2,1059.0 C1273.4,1063.8 1271.4,1070.4 1268.9,1074.9 C1266.5,1079.5 1262.0,1083.8 1258.3,1086.2 C1254.7,1088.6 1250.0,1090.0 1247.1,1089.2 C1244.1,1088.4 1241.8,1084.9 1240.7,1081.3 C1239.6,1077.7 1239.3,1071.6 1240.3,1067.5 C1241.3,1063.4 1245.6,1058.7 1246.6,1056.9" fill="none" stroke="#111" stroke-width="1.5"/>
<path d="M1253.0,1056.9 C1253.7,1058.4 1255.8,1065.4 1257.3,1065.8 C1258.7,1066.2 1259.7,1060.7 1261.5,1059.4 C1263.4,1058.1 1268.7,1056.2 1268.3,1057.9 C1268.0,1059.6 1262.3,1066.2 1259.4,1069.6 C1256.5,1073.1 1249.8,1078.1 1250.9,1078.6 C1251.9,1079.0 1261.5,1074.1 1265.8,1072.2 C1270.0,1070.2 1273.0,1067.9 1276.4,1066.9 C1279.8,1065.8 1284.5,1066.0 1286.2,1065.8" fill="none" stroke="#111" stroke-width="1.5"/>
<path d="M1244.5,1033.5 C1244.9,1035.6 1244.5,1045.4 1246.6,1046.3 C1248.8,1047.1 1255.5,1040.1 1257.3,1038.8" fill="none" stroke="#111" stroke-width="1.0"/>
<!-- part7 -->
<text transform="translate(714,894)" font-family="Liberation Serif" font-size="16.2" fill="#444" textLength="130" lengthAdjust="spacingAndGlyphs">Ανήκει στην αρίθμ...</text>
<text transform="translate(714,912.8)" font-family="Liberation Serif" font-size="16.2" fill="#444" textLength="87" lengthAdjust="spacingAndGlyphs">Απόφασή μας</text>
<text transform="translate(714,931)" font-family="Liberation Serif" font-size="16.2" fill="#222" textLength="172.5" lengthAdjust="spacingAndGlyphs">Με εντολή Γ.Γ.Α.Δ.Θ.Σ.Ε</text>
<text transform="translate(785,949.8)" font-family="Liberation Serif" font-size="16.2" fill="#222" textLength="21.5" lengthAdjust="spacingAndGlyphs">-Ο-</text>
<text transform="translate(714,969)" font-family="Liberation Serif" font-size="16.2" fill="#222" textLength="170" lengthAdjust="spacingAndGlyphs">Δ/ντής Δασών  Ν. Φθ/δας</text>
<text transform="translate(844.5,893.8) rotate(-1.2)" font-family="Liberation Sans" font-size="21.5" font-style="italic" fill="#222" textLength="139.5" lengthAdjust="spacingAndGlyphs">4521/209693/2016</text>
<text transform="translate(844,912.6) rotate(-1.2) skewX(-10)" font-family="Liberation Sans" font-size="14.5" fill="#111" textLength="141" lengthAdjust="spacingAndGlyphs" stroke="#111" stroke-width="0.25">ΛΑΜΙΑ  12-12-2016</text>
<text transform="translate(890.5,968.5) rotate(-1)" font-family="Liberation Sans" font-size="14.5" font-style="italic" fill="#111" textLength="38" lengthAdjust="spacingAndGlyphs" stroke="#111" stroke-width="0.3">κ.α.α.</text>
<text transform="translate(714,986.6) rotate(-1.0) skewX(-8)" font-family="Liberation Sans" font-size="16.5" fill="#111" textLength="220" lengthAdjust="spacingAndGlyphs" stroke="#111" stroke-width="0.3">Ο αναπληρωτής Δ/ντης Δασών</text>
<text transform="translate(1000.9,966.4)" font-family="Liberation Serif" font-size="16.2" fill="#111" textLength="100.8" lengthAdjust="spacingAndGlyphs">ΕΛΕΓΧΘΗΚΕ</text>
<text transform="translate(968.5,985.5)" font-family="Liberation Serif" font-size="16.2" fill="#111" textLength="152.7" lengthAdjust="spacingAndGlyphs">Αταλάντη  21-11- 2016</text>
<text transform="translate(1040,1004.4)" font-family="Liberation Serif" font-size="16.2" fill="#111">Ο</text>
<text transform="translate(1004.2,1023.6)" font-family="Liberation Serif" font-size="16.2" fill="#111" textLength="85.6" lengthAdjust="spacingAndGlyphs">ΔΑΣΑΡΧΗΣ</text>
<text transform="translate(1168,982.5)" font-family="Liberation Serif" font-size="16.2" fill="#111" textLength="148.3" lengthAdjust="spacingAndGlyphs">Αταλάντη 21-11-2016</text>
<text transform="translate(1242,1001.6)" font-family="Liberation Serif" font-size="16.2" fill="#111">Ο</text>
<text transform="translate(1192.9,1020.8)" font-family="Liberation Serif" font-size="16.2" fill="#111" textLength="102.2" lengthAdjust="spacingAndGlyphs">ΣΥΝΤΑΚΤΗΣ</text>
<text transform="translate(750.3,1086.4)" font-family="Liberation Sans" font-size="15.8" font-weight="bold" fill="#111" textLength="151.4" lengthAdjust="spacingAndGlyphs">ΔΗΜΟΣΘΕΝΗΣ ΒΑΣΙΛΕΙΟΥ</text>
<text transform="translate(755.3,1102.9)" font-family="Liberation Sans" font-size="15" font-weight="bold" fill="#111" textLength="138.2" lengthAdjust="spacingAndGlyphs">ΔΑΣΟΛΟΓΟΣ με Α’ βαθμό</text>
<text transform="translate(1009.8,1120)" font-family="Liberation Serif" font-size="15.5" font-weight="bold" fill="#333" textLength="146.5" lengthAdjust="spacingAndGlyphs">ΙΩΑΝΝΗΣ  ΠΑΤΟΥΛΗΣ</text>
<text transform="translate(1009.8,1136.8)" font-family="Liberation Sans" font-size="13.4" fill="#555" textLength="144.5" lengthAdjust="spacingAndGlyphs">ΔΑΣΟΛΟΓΟΣ  ΜΕ  Α΄ ΒΑΘΜΟ</text>
<text transform="translate(1212.6,1138.2) rotate(-1.2)" font-family="Liberation Sans" font-size="17.8" fill="#222" textLength="154" lengthAdjust="spacingAndGlyphs" stroke="#222" stroke-width="0.3">ΒΑΣΙΛΙΚΗ  ΤΣΟΧΑΝΤΑΡΗ</text>
<text transform="translate(1239.2,1156.8)" font-family="Liberation Sans" font-size="15.6" fill="#555" textLength="103" lengthAdjust="spacing">ΔΑΣΟΠΟΝΟΣ</text>

</svg>
</body></html>
